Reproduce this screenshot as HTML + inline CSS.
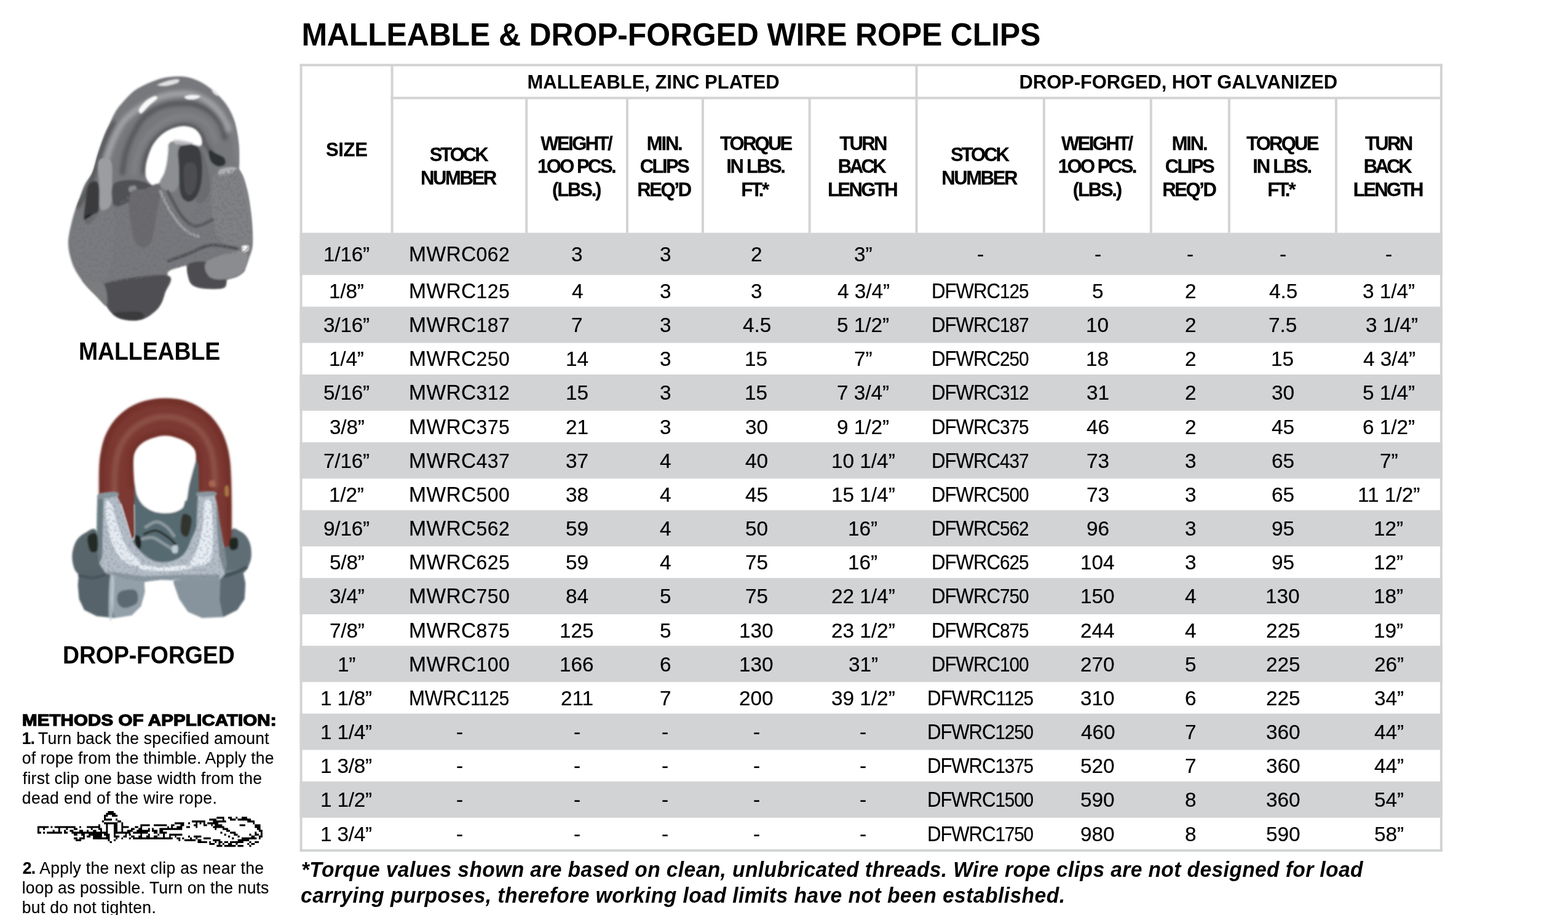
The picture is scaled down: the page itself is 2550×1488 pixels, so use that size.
<!DOCTYPE html>
<html lang="en">
<head>
<meta charset="utf-8">
<title>Malleable &amp; Drop-Forged Wire Rope Clips</title>
<style>
html,body{margin:0;padding:0;background:#fff;}
body{width:2550px;height:1488px;position:relative;overflow:hidden;font-family:"Liberation Sans", sans-serif;color:#000;}
#grid,#art{position:absolute;left:0;top:0;width:2550px;height:1488px;}
.t{position:absolute;margin:0;white-space:pre;line-height:1;font-weight:400;}
.b{font-weight:700;}
.i{font-style:italic;}
.t b{font-weight:700;}
</style>
</head>
<body>
<svg id="grid" width="2550" height="1488" viewBox="0 0 2550 1488">
<rect x="487.60" y="378.60" width="1858.30" height="68.60" fill="#d1d3d4"/>
<rect x="487.60" y="498.70" width="1858.30" height="59.00" fill="#d1d3d4"/>
<rect x="487.60" y="609.00" width="1858.30" height="59.00" fill="#d1d3d4"/>
<rect x="487.60" y="719.30" width="1858.30" height="59.00" fill="#d1d3d4"/>
<rect x="487.60" y="829.60" width="1858.30" height="59.00" fill="#d1d3d4"/>
<rect x="487.60" y="939.90" width="1858.30" height="59.00" fill="#d1d3d4"/>
<rect x="487.60" y="1050.20" width="1858.30" height="59.00" fill="#d1d3d4"/>
<rect x="487.60" y="1160.50" width="1858.30" height="59.00" fill="#d1d3d4"/>
<rect x="487.60" y="1270.80" width="1858.30" height="59.00" fill="#d1d3d4"/>
<rect x="487.60" y="103.80" width="4.00" height="1281.30" fill="#d1d3d4"/>
<rect x="2341.90" y="103.80" width="4.00" height="1281.30" fill="#d1d3d4"/>
<rect x="487.60" y="103.80" width="1858.30" height="4.00" fill="#d1d3d4"/>
<rect x="487.60" y="1381.10" width="1858.30" height="4.00" fill="#d1d3d4"/>
<rect x="635.60" y="157.40" width="1708.30" height="4.00" fill="#d1d3d4"/>
<rect x="635.60" y="103.80" width="4.00" height="274.90" fill="#d1d3d4"/>
<rect x="1488.50" y="103.80" width="4.00" height="274.90" fill="#d1d3d4"/>
<rect x="854.20" y="159.40" width="4.00" height="219.30" fill="#d1d3d4"/>
<rect x="1018.00" y="159.40" width="4.00" height="219.30" fill="#d1d3d4"/>
<rect x="1140.90" y="159.40" width="4.00" height="219.30" fill="#d1d3d4"/>
<rect x="1314.60" y="159.40" width="4.00" height="219.30" fill="#d1d3d4"/>
<rect x="1695.80" y="159.40" width="4.00" height="219.30" fill="#d1d3d4"/>
<rect x="1869.80" y="159.40" width="4.00" height="219.30" fill="#d1d3d4"/>
<rect x="1996.90" y="159.40" width="4.00" height="219.30" fill="#d1d3d4"/>
<rect x="2170.90" y="159.40" width="4.00" height="219.30" fill="#d1d3d4"/>
</svg>
<svg id="art" width="2550" height="1488" viewBox="0 0 2550 1488">
<defs>
<filter id="bl" x="-5%" y="-5%" width="110%" height="110%"><feGaussianBlur stdDeviation="1.6"/></filter>
<filter id="bl2" x="-20%" y="-20%" width="140%" height="140%"><feGaussianBlur stdDeviation="3.2"/></filter>
<filter id="bl3" x="-30%" y="-30%" width="160%" height="160%"><feGaussianBlur stdDeviation="6"/></filter>
<filter id="grain" x="0" y="0" width="100%" height="100%"><feTurbulence type="fractalNoise" baseFrequency="0.2" numOctaves="2" seed="7" result="n"/><feColorMatrix in="n" type="matrix" values="0 0 0 0 0.16  0 0 0 0 0.16  0 0 0 0 0.18  -7 0 0 0 3.6"/><feComposite in2="SourceGraphic" operator="in"/><feGaussianBlur stdDeviation="0.7"/></filter>
</defs>
<g id="malleable">
<g filter="url(#bl)">
<path d="M286.9,124.3 C293.2,124.2 299.5,124.3 306.0,125.7 C312.5,127.1 319.6,129.8 325.7,132.9 C331.9,136.0 337.6,140.2 342.9,144.3 C348.1,148.3 352.6,152.4 357.1,157.1 C361.7,161.9 366.2,166.9 370.0,172.9 C373.8,178.8 377.4,185.7 380.0,192.9 C382.6,200.0 384.3,208.1 385.7,215.7 C387.1,223.3 388.0,230.5 388.6,238.6 C389.1,246.7 389.0,258.1 389.1,264.3 C389.2,270.5 388.3,271.9 389.1,275.7 C390.0,279.5 392.5,281.9 394.3,287.1 C396.1,292.4 398.2,299.5 400.0,307.1 C401.8,314.8 403.6,324.3 405.1,332.9 C406.7,341.4 408.3,350.0 409.1,358.6 C410.0,367.1 410.3,376.2 410.3,384.3 C410.3,392.4 410.1,401.0 409.1,407.1 C408.1,413.3 406.0,416.7 404.3,421.4 C402.5,426.2 399.8,432.4 398.6,435.7 C397.4,439.0 399.3,439.0 397.1,441.4 C395.0,443.8 390.5,447.6 385.7,450.0 C381.0,452.4 371.9,452.9 368.6,455.7 C365.2,458.6 369.5,464.9 365.7,467.1 C361.9,469.4 352.9,469.3 345.7,469.4 C338.6,469.5 328.8,469.3 322.9,467.7 C316.9,466.1 312.8,463.4 310.0,460.0 C307.2,456.6 307.2,451.7 306.3,447.1 C305.3,442.6 307.2,434.8 304.3,432.9 C301.3,431.0 293.6,434.3 288.6,435.7 C283.6,437.1 277.1,438.6 274.3,441.4 C271.4,444.3 272.6,446.7 271.4,452.9 C270.2,459.0 269.3,471.0 267.1,478.6 C265.0,486.2 262.6,492.9 258.6,498.6 C254.5,504.3 248.3,509.3 242.9,512.9 C237.4,516.4 231.9,518.8 225.7,520.0 C219.5,521.2 211.9,521.0 205.7,520.0 C199.5,519.0 193.8,517.9 188.6,514.3 C183.3,510.7 179.5,504.0 174.3,498.6 C169.0,493.1 162.4,486.7 157.1,481.4 C151.9,476.2 147.4,472.1 142.9,467.1 C138.3,462.1 133.9,457.1 130.0,451.4 C126.1,445.7 122.2,439.3 119.4,432.9 C116.6,426.4 114.6,419.0 113.1,412.9 C111.7,406.7 111.0,401.2 110.9,395.7 C110.8,390.2 111.4,386.4 112.6,380.0 C113.7,373.6 115.9,364.1 117.7,357.1 C119.5,350.1 121.3,344.4 123.4,338.0 C125.6,331.6 128.1,325.2 130.6,318.9 C133.0,312.5 134.7,306.5 138.0,300.0 C141.3,293.5 146.8,288.4 150.3,280.0 C153.8,271.6 155.9,259.8 159.1,249.7 C162.4,239.7 166.4,228.0 169.7,219.7 C173.0,211.4 175.7,206.6 178.9,200.0 C182.0,193.4 184.8,186.2 188.6,180.3 C192.3,174.3 196.7,169.6 201.4,164.3 C206.2,159.0 211.9,152.8 217.1,148.6 C222.4,144.3 227.3,141.8 233.1,138.9 C239.0,135.9 246.2,133.0 252.0,130.9 C257.8,128.8 262.2,127.4 268.0,126.3 C273.8,125.2 280.5,124.4 286.9,124.3Z" fill="#77787b"/>
</g>
<clipPath id="mclip"><path d="M286.9,124.3 C293.2,124.2 299.5,124.3 306.0,125.7 C312.5,127.1 319.6,129.8 325.7,132.9 C331.9,136.0 337.6,140.2 342.9,144.3 C348.1,148.3 352.6,152.4 357.1,157.1 C361.7,161.9 366.2,166.9 370.0,172.9 C373.8,178.8 377.4,185.7 380.0,192.9 C382.6,200.0 384.3,208.1 385.7,215.7 C387.1,223.3 388.0,230.5 388.6,238.6 C389.1,246.7 389.0,258.1 389.1,264.3 C389.2,270.5 388.3,271.9 389.1,275.7 C390.0,279.5 392.5,281.9 394.3,287.1 C396.1,292.4 398.2,299.5 400.0,307.1 C401.8,314.8 403.6,324.3 405.1,332.9 C406.7,341.4 408.3,350.0 409.1,358.6 C410.0,367.1 410.3,376.2 410.3,384.3 C410.3,392.4 410.1,401.0 409.1,407.1 C408.1,413.3 406.0,416.7 404.3,421.4 C402.5,426.2 399.8,432.4 398.6,435.7 C397.4,439.0 399.3,439.0 397.1,441.4 C395.0,443.8 390.5,447.6 385.7,450.0 C381.0,452.4 371.9,452.9 368.6,455.7 C365.2,458.6 369.5,464.9 365.7,467.1 C361.9,469.4 352.9,469.3 345.7,469.4 C338.6,469.5 328.8,469.3 322.9,467.7 C316.9,466.1 312.8,463.4 310.0,460.0 C307.2,456.6 307.2,451.7 306.3,447.1 C305.3,442.6 307.2,434.8 304.3,432.9 C301.3,431.0 293.6,434.3 288.6,435.7 C283.6,437.1 277.1,438.6 274.3,441.4 C271.4,444.3 272.6,446.7 271.4,452.9 C270.2,459.0 269.3,471.0 267.1,478.6 C265.0,486.2 262.6,492.9 258.6,498.6 C254.5,504.3 248.3,509.3 242.9,512.9 C237.4,516.4 231.9,518.8 225.7,520.0 C219.5,521.2 211.9,521.0 205.7,520.0 C199.5,519.0 193.8,517.9 188.6,514.3 C183.3,510.7 179.5,504.0 174.3,498.6 C169.0,493.1 162.4,486.7 157.1,481.4 C151.9,476.2 147.4,472.1 142.9,467.1 C138.3,462.1 133.9,457.1 130.0,451.4 C126.1,445.7 122.2,439.3 119.4,432.9 C116.6,426.4 114.6,419.0 113.1,412.9 C111.7,406.7 111.0,401.2 110.9,395.7 C110.8,390.2 111.4,386.4 112.6,380.0 C113.7,373.6 115.9,364.1 117.7,357.1 C119.5,350.1 121.3,344.4 123.4,338.0 C125.6,331.6 128.1,325.2 130.6,318.9 C133.0,312.5 134.7,306.5 138.0,300.0 C141.3,293.5 146.8,288.4 150.3,280.0 C153.8,271.6 155.9,259.8 159.1,249.7 C162.4,239.7 166.4,228.0 169.7,219.7 C173.0,211.4 175.7,206.6 178.9,200.0 C182.0,193.4 184.8,186.2 188.6,180.3 C192.3,174.3 196.7,169.6 201.4,164.3 C206.2,159.0 211.9,152.8 217.1,148.6 C222.4,144.3 227.3,141.8 233.1,138.9 C239.0,135.9 246.2,133.0 252.0,130.9 C257.8,128.8 262.2,127.4 268.0,126.3 C273.8,125.2 280.5,124.4 286.9,124.3Z"/></clipPath>
<g clip-path="url(#mclip)"><g filter="url(#bl2)">
<path d="M127.1,335.7 C129.8,331.0 138.5,316.4 142.9,307.1 C147.2,297.9 150.0,289.6 153.4,280.0 C156.9,270.4 159.9,259.8 163.4,249.7 C167.0,239.7 171.1,228.0 174.9,219.7 C178.6,211.4 183.9,203.3 185.7,200.0" fill="none" stroke="#515255" stroke-width="7" stroke-linecap="round" stroke-linejoin="round"/>
<path d="M168.9,280.0 C169.9,275.5 172.0,262.1 174.9,252.9 C177.7,243.6 181.5,233.3 185.7,224.3 C189.9,215.2 194.3,206.0 200.0,198.6 C205.7,191.2 213.3,185.2 220.0,180.0 C226.7,174.8 233.3,170.8 240.0,167.1 C246.7,163.5 252.9,160.4 260.0,158.0 C267.1,155.6 274.3,153.7 282.9,152.9 C291.4,152.0 302.4,151.0 311.4,152.9 C320.5,154.8 329.5,159.3 337.1,164.3 C344.8,169.3 351.4,175.2 357.1,182.9 C362.9,190.5 369.0,205.5 371.4,210.0" fill="none" stroke="#a0a1a4" stroke-width="10" stroke-linecap="round" stroke-linejoin="round"/>
<path d="M198.9,281.4 C199.6,276.7 201.1,262.1 203.4,252.9 C205.8,243.6 208.4,235.2 212.9,225.7 C217.3,216.2 224.0,203.3 230.0,195.7 C236.0,188.1 241.7,184.2 248.6,180.0 C255.5,175.8 262.9,172.6 271.4,170.6 C280.0,168.6 291.4,167.8 300.0,168.0 C308.6,168.2 315.7,169.2 322.9,171.7 C330.0,174.2 336.9,177.9 342.9,182.9 C348.8,187.8 354.8,194.5 358.6,201.4 C362.4,208.3 364.5,220.5 365.7,224.3" fill="none" stroke="#55565a" stroke-width="8" stroke-linecap="round" stroke-linejoin="round"/>
<path d="M217.1,281.4 C217.9,277.6 219.3,266.2 221.4,258.6 C223.6,251.0 226.0,243.1 230.0,235.7 C234.0,228.3 239.8,220.5 245.7,214.3 C251.7,208.1 258.6,202.6 265.7,198.6 C272.9,194.5 281.4,191.7 288.6,190.0 C295.7,188.3 301.9,187.6 308.6,188.6 C315.2,189.5 322.9,192.1 328.6,195.7 C334.3,199.3 339.0,204.3 342.9,210.0 C346.7,215.7 350.0,226.7 351.4,230.0" fill="none" stroke="#828386" stroke-width="6" stroke-linecap="round" stroke-linejoin="round"/>
<path d="M232.6,281.4 C233.2,277.1 234.5,263.1 236.6,255.7 C238.7,248.3 241.6,242.9 245.1,237.1 C248.7,231.4 253.0,225.9 257.7,221.4 C262.4,217.0 267.5,213.4 273.1,210.6 C278.8,207.7 285.9,205.4 291.4,204.3 C297.0,203.2 301.7,203.2 306.3,204.0 C310.9,204.8 315.2,206.5 318.9,209.1 C322.5,211.8 325.7,215.8 328.0,219.7 C330.3,223.7 330.4,228.3 332.9,232.9 C335.3,237.4 341.2,244.8 342.9,247.1" fill="none" stroke="#4a4b4e" stroke-width="5" stroke-linecap="round" stroke-linejoin="round"/>
<path d="M375.7,198.6 C377.0,203.8 381.9,219.0 383.4,230.0 C385.0,241.0 384.9,258.6 385.1,264.3" fill="none" stroke="#808184" stroke-width="6" stroke-linecap="round" stroke-linejoin="round"/>
</g></g>
<g filter="url(#bl)">
<path d="M340.0,244.3 C341.4,242.4 347.4,247.9 351.4,250.0 C355.5,252.1 361.9,254.3 364.3,257.1 C366.7,260.0 367.4,265.0 365.7,267.1 C364.0,269.3 358.1,271.0 354.3,270.0 C350.5,269.0 345.2,265.7 342.9,261.4 C340.5,257.1 338.6,246.2 340.0,244.3Z" fill="#2f3033"/>
<path d="M237.1,270.0 C237.9,264.3 239.5,258.6 241.4,252.9 C243.3,247.1 245.5,241.0 248.6,235.7 C251.7,230.5 255.7,225.5 260.0,221.4 C264.3,217.4 269.0,214.0 274.3,211.4 C279.5,208.8 286.2,206.7 291.4,205.7 C296.7,204.8 301.4,205.0 305.7,205.7 C310.0,206.4 313.8,207.6 317.1,210.0 C320.5,212.4 323.8,216.4 325.7,220.0 C327.6,223.6 328.6,228.6 328.6,231.4 C328.6,234.3 327.6,236.4 325.7,237.1 C323.8,237.9 321.4,236.7 317.1,235.7 C312.9,234.8 305.7,232.4 300.0,231.4 C294.3,230.5 287.0,229.7 282.9,230.0 C278.7,230.3 276.4,231.0 274.9,233.4 C273.3,235.8 274.3,239.1 273.7,244.3 C273.1,249.4 272.5,258.1 271.4,264.3 C270.3,270.5 269.0,276.2 267.1,281.4 C265.2,286.7 262.6,292.4 260.0,295.7 C257.4,299.0 254.3,301.2 251.4,301.4 C248.6,301.7 245.2,299.5 242.9,297.1 C240.5,294.8 238.1,291.7 237.1,287.1 C236.2,282.6 236.4,275.7 237.1,270.0Z" fill="#ffffff"/>
<path d="M325.7,238.6 C327.6,236.7 334.5,258.1 337.1,270.0 C339.8,281.9 342.9,300.0 341.4,310.0 C340.0,320.0 332.6,328.1 328.6,330.0 C324.5,331.9 317.6,329.5 317.1,321.4 C316.7,313.3 324.3,295.2 325.7,281.4 C327.1,267.6 323.8,240.5 325.7,238.6Z" fill="#6b6c6f"/>
<path d="M274.9,233.4 C277.4,231.9 286.2,231.0 289.1,235.1 C292.1,239.3 292.1,249.0 292.6,258.6 C293.0,268.2 293.6,284.0 292.0,292.9 C290.4,301.7 287.2,309.0 282.9,311.4 C278.5,313.8 269.5,309.8 265.7,307.1 C261.9,304.5 259.8,300.0 260.0,295.7 C260.2,291.4 265.2,286.7 267.1,281.4 C269.0,276.2 270.3,270.5 271.4,264.3 C272.5,258.1 273.1,249.4 273.7,244.3 C274.3,239.1 272.3,235.0 274.9,233.4Z" fill="#8d8e91"/>
<path d="M290.0,244.3 C291.5,238.6 295.5,237.1 300.0,235.7 C304.5,234.3 312.9,233.8 317.1,235.7 C321.4,237.6 323.8,241.4 325.7,247.1 C327.6,252.9 328.3,261.4 328.6,270.0 C328.8,278.6 328.6,290.5 327.1,298.6 C325.7,306.7 323.1,313.7 320.0,318.6 C316.9,323.4 312.4,327.1 308.6,327.7 C304.8,328.3 299.9,325.9 297.1,322.0 C294.4,318.1 293.0,313.0 292.0,304.3 C291.0,295.6 291.2,280.0 290.9,270.0 C290.5,260.0 288.5,250.0 290.0,244.3Z" fill="#3b3c3f"/>
<path d="M300.0,270.0 C302.6,262.9 313.8,262.9 317.1,267.1 C320.5,271.4 321.0,287.6 320.0,295.7 C319.0,303.8 314.5,313.3 311.4,315.7 C308.3,318.1 303.3,317.6 301.4,310.0 C299.5,302.4 297.4,277.1 300.0,270.0Z" fill="#4d4e51"/>
<path d="M282.9,227.1 C285.2,226.2 294.8,227.6 300.0,228.6 C305.2,229.5 314.3,231.7 314.3,232.9 C314.3,234.0 304.8,235.5 300.0,235.7 C295.2,236.0 288.6,235.7 285.7,234.3 C282.9,232.9 280.5,228.1 282.9,227.1Z" fill="#c4c5c8" opacity="0.8"/>
<path d="M225.7,178.6 C226.9,175.2 232.9,168.0 237.1,164.3 C241.4,160.6 248.3,157.0 251.4,156.3 C254.5,155.6 257.1,157.5 255.7,160.0 C254.3,162.5 247.1,167.4 242.9,171.4 C238.6,175.5 232.9,183.1 230.0,184.3 C227.1,185.5 224.5,181.9 225.7,178.6Z" fill="#ffffff" opacity="0.95"/>
<path d="M255.7,138.6 C255.7,137.2 265.7,133.3 271.4,131.7 C277.1,130.1 287.0,128.4 290.0,128.9 C293.0,129.3 292.2,132.8 289.1,134.6 C286.0,136.4 277.0,139.0 271.4,139.7 C265.9,140.4 255.7,139.9 255.7,138.6Z" fill="#f4f4f4" opacity="0.85"/>
<path d="M300.0,157.1 C301.2,156.0 307.1,154.4 311.4,154.3 C315.7,154.1 324.8,155.1 325.7,156.3 C326.7,157.5 320.7,160.6 317.1,161.4 C313.6,162.3 307.1,162.1 304.3,161.4 C301.4,160.7 298.8,158.3 300.0,157.1Z" fill="#ffffff" opacity="0.9"/>
<path d="M344.3,145.7 C344.8,145.0 349.5,146.9 351.4,148.6 C353.3,150.2 356.2,155.0 355.7,155.7 C355.2,156.4 350.5,154.5 348.6,152.9 C346.7,151.2 343.8,146.4 344.3,145.7Z" fill="#f0f0f0" opacity="0.85"/>
<path d="M160.6,261.4 C163.8,255.2 177.0,256.4 180.6,262.9 C184.2,269.3 182.2,288.8 182.3,300.0 C182.4,311.2 182.9,323.2 181.1,330.0 C179.4,336.8 175.0,339.5 172.0,340.9 C169.0,342.2 164.7,344.8 162.9,338.0 C161.0,331.2 161.5,312.8 161.1,300.0 C160.8,287.2 157.3,267.6 160.6,261.4Z" fill="#9c9da0"/>
<path d="M144.6,300.0 C148.1,294.3 157.3,292.1 160.0,298.6 C162.7,305.0 161.3,329.1 160.6,338.6 C159.9,348.0 158.7,351.1 155.7,355.1 C152.8,359.2 146.0,362.4 142.9,362.9 C139.7,363.3 137.3,363.0 136.6,358.0 C135.9,353.0 137.2,342.5 138.6,332.9 C139.9,323.2 141.0,305.7 144.6,300.0Z" fill="#3a3b3e"/>
<path d="M138.6,352.9 C139.8,350.2 145.5,347.1 147.1,348.6 C148.8,350.0 149.8,358.8 148.6,361.4 C147.4,364.0 141.7,365.7 140.0,364.3 C138.3,362.9 137.4,355.5 138.6,352.9Z" fill="#1f2023"/>
<path d="M185.7,298.6 C191.9,292.9 209.5,292.4 220.0,292.9 C230.5,293.3 241.9,298.6 248.6,301.4 C255.2,304.3 261.0,306.7 260.0,310.0 C259.0,313.3 250.5,318.6 242.9,321.4 C235.2,324.3 222.9,324.8 214.3,327.1 C205.7,329.5 196.7,335.7 191.4,335.7 C186.2,335.7 183.8,333.3 182.9,327.1 C181.9,321.0 179.5,304.3 185.7,298.6Z" fill="#505154"/>
<path d="M210.0,304.3 C211.5,302.6 218.1,301.0 220.0,302.0 C221.9,303.0 223.0,308.3 221.4,310.0 C219.9,311.7 212.8,313.2 210.9,312.3 C209.0,311.3 208.5,306.0 210.0,304.3Z" fill="#9a9b9e" opacity="0.8"/>
<path d="M214.3,311.4 C218.8,305.7 230.2,309.3 237.1,307.1 C244.0,305.0 251.7,297.9 255.7,298.6 C259.8,299.3 261.4,304.3 261.4,311.4 C261.4,318.6 258.6,327.4 255.7,341.4 C252.9,355.5 250.0,386.7 244.3,395.7 C238.6,404.8 227.1,404.8 221.4,395.7 C215.7,386.7 211.2,355.5 210.0,341.4 C208.8,327.4 209.8,317.1 214.3,311.4Z" fill="#69696c"/>
<path d="M122.9,368.6 C133.4,359.3 169.5,335.5 180.0,340.0 C190.5,344.5 187.1,376.9 185.7,395.7 C184.3,414.5 180.5,444.3 171.4,452.9 C162.4,461.4 140.6,456.7 131.4,447.1 C122.3,437.6 118.0,408.8 116.6,395.7 C115.1,382.6 112.3,377.9 122.9,368.6Z" fill="#7b7c7f" opacity="0.8"/>
<path d="M351.4,281.4 C358.5,275.4 377.2,269.2 385.7,274.0 C394.2,278.8 398.3,294.5 402.3,310.0 C406.2,325.5 408.5,351.0 409.4,367.1 C410.4,383.3 412.0,401.4 408.0,407.1 C404.0,412.9 394.2,404.3 385.7,401.4 C377.2,398.6 363.7,397.6 357.1,390.0 C350.6,382.4 348.6,369.0 346.3,355.7 C344.0,342.4 342.6,322.4 343.4,310.0 C344.3,297.6 344.4,287.4 351.4,281.4Z" fill="#808184"/>
<path d="M357.1,275.7 C360.0,273.6 369.5,271.7 374.3,271.4 C379.0,271.1 385.7,272.3 385.7,274.0 C385.7,275.7 379.0,279.7 374.3,281.4 C369.5,283.1 360.0,285.2 357.1,284.3 C354.3,283.3 354.3,277.9 357.1,275.7Z" fill="#b9babd" opacity="0.8"/>
<path d="M260.6,310.6 C263.4,316.3 271.0,334.4 277.7,344.9 C284.4,355.3 293.0,366.8 300.6,373.4 C308.2,380.1 319.6,383.0 323.4,384.9" fill="none" stroke="#a0a1a4" stroke-width="4" stroke-linecap="round" stroke-linejoin="round"/>
<path d="M272.9,311.4 C276.5,318.0 287.4,341.2 294.9,350.6 C302.3,360.0 309.2,366.6 317.7,367.7 C326.2,368.8 341.0,358.9 345.7,357.1" fill="none" stroke="#57585b" stroke-width="5" stroke-linecap="round" stroke-linejoin="round"/>
<path d="M274.3,424.3 C279.5,422.4 294.3,417.1 305.7,412.9 C317.1,408.6 329.5,400.0 342.9,398.6 C356.2,397.1 378.6,403.3 385.7,404.3" fill="none" stroke="#505154" stroke-width="5" stroke-linecap="round" stroke-linejoin="round"/>
<path d="M168.6,462.0 C184.9,453.8 255.0,445.0 271.4,447.7 C287.9,450.5 269.3,470.1 267.1,478.6 C265.0,487.0 262.6,492.9 258.6,498.6 C254.5,504.3 248.3,509.3 242.9,512.9 C237.4,516.4 231.9,518.8 225.7,520.0 C219.5,521.2 211.9,521.0 205.7,520.0 C199.5,519.0 193.9,518.1 188.6,514.3 C183.2,510.5 177.0,505.9 173.7,497.1 C170.4,488.4 152.3,470.2 168.6,462.0Z" fill="#4f5053"/>
<path d="M185.7,508.6 C191.7,507.2 217.6,506.0 225.7,507.1 C233.8,508.3 234.3,513.6 234.3,515.7 C234.3,517.9 230.5,519.3 225.7,520.0 C221.0,520.7 211.7,520.8 205.7,520.0 C199.8,519.2 193.3,517.0 190.0,515.1 C186.7,513.2 179.8,509.9 185.7,508.6Z" fill="#3a3b3e"/>
<path d="M135.7,454.3 C140.0,453.4 162.2,454.9 168.6,462.0 C174.9,469.1 175.6,493.9 173.7,497.1 C171.8,500.4 162.3,486.4 157.1,481.4 C152.0,476.4 146.4,471.7 142.9,467.1 C139.3,462.6 131.4,455.1 135.7,454.3Z" fill="#7a7b7e"/>
<path d="M305.7,430.6 C310.3,425.2 331.9,423.9 337.7,427.1 C343.5,430.4 335.8,445.6 340.6,450.0 C345.3,454.4 362.3,450.6 366.3,453.4 C370.2,456.3 367.7,464.5 364.3,467.1 C360.9,469.8 352.5,469.4 345.7,469.4 C338.9,469.4 329.4,468.9 323.4,467.1 C317.5,465.4 313.0,465.2 310.0,459.1 C307.0,453.0 301.1,435.9 305.7,430.6Z" fill="#4d4e51"/>
<path d="M337.7,424.3 C347.1,417.2 387.1,405.3 397.1,407.7 C407.1,410.1 402.4,431.0 397.7,438.6 C393.0,446.2 378.7,451.5 369.1,453.4 C359.6,455.3 345.8,454.9 340.6,450.0 C335.3,445.1 328.3,431.3 337.7,424.3Z" fill="#8b8c8f"/>
<path d="M394.3,400.0 C395.6,398.3 401.3,397.4 402.9,398.6 C404.4,399.8 404.8,405.5 403.4,407.1 C402.1,408.8 396.4,409.8 394.9,408.6 C393.3,407.4 393.0,401.7 394.3,400.0Z" fill="#ffffff" opacity="0.9"/>
</g>
<g clip-path="url(#mclip)"><path d="M117.1,372.9 L180.0,338.6 L214.3,311.4 L255.7,298.6 L300.0,367.1 L351.4,281.4 L385.7,274.0 L409.4,367.1 L408.0,407.1 L305.7,430.0 L271.4,447.1 L168.6,462.0 L131.4,450.0 L114.3,395.7Z" fill="#000" opacity="0.38" filter="url(#grain)"/></g>
</g>
<g id="dropforged">
<g filter="url(#bl)">
<path d="M157.1,862.9 C151.4,856.2 145.2,863.3 140.0,865.7 C134.8,868.1 129.3,872.4 125.7,877.1 C122.1,881.9 119.9,888.6 118.6,894.3 C117.2,900.0 117.0,905.7 117.7,911.4 C118.4,917.1 120.1,924.3 122.9,928.6 C125.6,932.9 128.6,935.2 134.3,937.1 C140.0,939.0 150.5,945.2 157.1,940.0 C163.8,934.8 174.3,918.6 174.3,905.7 C174.3,892.9 162.9,869.5 157.1,862.9Z" fill="#58666c"/>
<path d="M375.7,862.9 C381.0,855.7 384.5,861.4 388.6,862.9 C392.6,864.3 396.9,867.6 400.0,871.4 C403.1,875.2 405.7,880.0 407.1,885.7 C408.6,891.4 409.3,899.5 408.6,905.7 C407.9,911.9 405.7,918.1 402.9,922.9 C400.0,927.6 397.1,932.4 391.4,934.3 C385.7,936.2 374.3,939.0 368.6,934.3 C362.9,929.5 356.0,917.6 357.1,905.7 C358.3,893.8 370.5,870.0 375.7,862.9Z" fill="#5f6d75"/>
<path d="M128.6,928.6 L171.4,922.9 L194.3,928.6 L234.3,934.3 L235.4,962.9 L229.1,985.7 L214.3,1000.6 L185.7,1004.9 L157.1,1002.0 L137.1,992.0 L128.6,974.3 L126.6,951.4Z" fill="#56646b"/>
<path d="M181.4,931.4 L234.3,934.3 L235.4,962.9 L229.1,985.7 L214.3,1000.6 L185.7,1004.9 L180.0,977.1Z" fill="#939fa9"/>
<path d="M194.3,962.9 C199.0,959.5 215.2,957.1 220.0,960.0 C224.8,962.9 225.7,975.2 222.9,980.0 C220.0,984.8 208.1,988.6 202.9,988.6 C197.6,988.6 192.9,984.3 191.4,980.0 C190.0,975.7 189.5,966.2 194.3,962.9Z" fill="#5b6972"/>
<path d="M178.6,940.0 C180.0,930.2 185.0,932.4 185.7,942.9 C186.4,953.3 184.3,993.1 182.9,1002.9 C181.4,1012.6 177.9,1011.9 177.1,1001.4 C176.4,991.0 177.1,949.8 178.6,940.0Z" fill="#c5d0da" opacity="0.7"/>
<path d="M300.0,928.6 L357.1,930.0 L394.3,925.7 L399.1,948.6 L397.7,974.3 L385.7,992.0 L362.9,1003.4 L328.6,1004.9 L305.7,994.9 L291.4,974.3 L282.3,948.6 L282.9,934.3Z" fill="#87949d"/>
<path d="M358.6,931.4 L394.3,925.7 L399.1,948.6 L397.7,974.3 L385.7,992.0 L362.9,1003.4 L357.1,977.1Z" fill="#5d6b73"/>
<path d="M161.4,820.0 C161.4,810.5 161.0,777.1 161.4,762.9 C161.9,748.6 162.6,743.3 164.3,734.3 C166.0,725.2 167.9,716.9 171.4,708.6 C175.0,700.2 180.0,691.4 185.7,684.3 C191.4,677.1 198.6,670.7 205.7,665.7 C212.9,660.7 220.5,657.1 228.6,654.3 C236.7,651.4 246.2,649.6 254.3,648.6 C262.4,647.5 269.5,647.5 277.1,648.0 C284.8,648.5 292.4,649.2 300.0,651.4 C307.6,653.7 315.7,657.1 322.9,661.4 C330.0,665.7 336.9,671.0 342.9,677.1 C348.8,683.3 354.3,691.0 358.6,698.6 C362.9,706.2 366.0,714.5 368.6,722.9 C371.1,731.2 372.5,739.0 373.7,748.6 C374.9,758.1 375.2,768.1 375.7,780.0 C376.2,791.9 376.4,806.2 376.6,820.0 C376.7,833.8 376.7,851.4 376.6,862.9 C376.4,874.3 375.9,884.3 375.7,888.6 L364.3,890.0 L322.9,820.0 L214.3,820.0Z" fill="#7b3933"/>
<path d="M188.6,802.9 L217.7,791.4 L218.9,871.4 L214.3,878.6 L205.7,848.6 L197.1,820.0Z" fill="#7b3933"/>
</g>
<g filter="url(#bl2)">
<path d="M185.7,802.9 C186.0,796.2 186.0,774.3 187.1,762.9 C188.3,751.4 190.0,742.9 192.9,734.3 C195.7,725.7 199.3,718.3 204.3,711.4 C209.3,704.5 216.0,697.9 222.9,692.9 C229.8,687.9 238.1,684.0 245.7,681.4 C253.3,678.9 261.0,677.9 268.6,677.7 C276.2,677.6 283.8,678.3 291.4,680.6 C299.0,682.9 307.6,686.8 314.3,691.4 C321.0,696.1 326.7,701.9 331.4,708.6 C336.2,715.2 340.1,723.3 342.9,731.4 C345.6,739.5 346.8,747.1 348.0,757.1 C349.2,767.1 349.7,785.7 350.0,791.4" fill="none" stroke="#8e5248" stroke-width="9" stroke-linecap="round" stroke-linejoin="round"/>
<path d="M165.1,802.9 C165.2,796.2 165.0,774.3 165.7,762.9 C166.4,751.4 167.4,743.0 169.1,734.3 C170.9,725.6 172.7,718.5 176.0,710.9 C179.3,703.2 183.7,695.3 189.1,688.6 C194.6,681.8 201.8,675.2 208.6,670.3 C215.4,665.4 222.4,662.0 230.0,659.1 C237.6,656.3 246.4,654.5 254.3,653.4 C262.1,652.4 269.6,652.4 277.1,652.9 C284.7,653.3 292.2,654.1 299.4,656.3 C306.7,658.4 313.9,661.7 320.6,665.7 C327.2,669.8 333.8,674.7 339.4,680.6 C345.0,686.5 350.2,693.8 354.3,701.1 C358.4,708.5 361.5,716.6 364.0,724.6 C366.5,732.6 367.9,739.9 369.1,749.1 C370.4,758.4 371.0,768.2 371.4,780.0 C371.9,791.8 371.9,803.8 372.0,820.0 C372.1,836.2 372.0,867.6 372.0,877.1" fill="none" stroke="#642420" stroke-width="4" stroke-linecap="round" stroke-linejoin="round" opacity="0.85"/>
<path d="M213.7,791.4 C213.6,784.3 212.5,758.8 213.1,748.6 C213.8,738.3 214.6,735.6 217.7,730.0 C220.9,724.4 226.5,718.9 232.0,715.1 C237.5,711.4 244.8,709.2 250.9,707.4 C257.0,705.7 262.6,704.6 268.6,704.6 C274.6,704.6 280.9,705.7 286.9,707.4 C292.9,709.1 299.3,711.5 304.6,714.9 C309.8,718.2 315.3,722.3 318.3,727.4 C321.2,732.6 321.4,735.0 322.3,745.7 C323.1,756.4 323.2,783.8 323.4,791.4" fill="none" stroke="#67251f" stroke-width="4" stroke-linecap="round" stroke-linejoin="round" opacity="0.8"/>
</g>
<g filter="url(#bl)">
<path d="M312.9,768.6 L318.6,745.7 L322.9,757.1 L323.4,802.9 L321.4,848.6 L300.0,837.1 L303.4,814.3 L307.1,791.4Z" fill="#586a70"/>
<path d="M217.1,748.6 C217.6,739.5 218.6,736.4 221.4,731.4 C224.3,726.4 229.3,721.9 234.3,718.6 C239.3,715.2 245.7,713.1 251.4,711.4 C257.1,709.8 262.9,708.6 268.6,708.6 C274.3,708.6 280.0,709.8 285.7,711.4 C291.4,713.1 297.9,715.5 302.9,718.6 C307.9,721.7 313.1,725.5 315.7,730.0 C318.3,734.5 319.0,739.3 318.6,745.7 C318.1,752.1 314.8,761.0 312.9,768.6 C311.0,776.2 308.7,783.8 307.1,791.4 C305.6,799.0 305.1,808.6 303.4,814.3 C301.8,820.0 300.6,822.6 297.1,825.7 C293.7,828.8 288.6,831.4 282.9,832.9 C277.1,834.3 269.0,834.8 262.9,834.3 C256.7,833.8 251.0,832.4 245.7,830.0 C240.5,827.6 235.2,824.0 231.4,820.0 C227.6,816.0 225.0,811.4 222.9,805.7 C220.7,800.0 219.5,795.2 218.6,785.7 C217.6,776.2 216.7,757.6 217.1,748.6Z" fill="#ffffff"/>
<path d="M158.6,805.7 L188.6,802.3 L197.1,820.0 L205.7,848.6 L214.3,877.1 L225.7,894.3 L242.9,908.6 L260.0,914.3 L282.9,911.4 L300.0,900.0 L311.4,877.1 L320.0,848.6 L321.4,820.0 L322.3,802.9 L348.6,801.4 L352.9,820.0 L357.1,848.6 L364.3,888.6 L368.6,917.1 L365.7,934.3 L357.1,942.9 L300.0,941.4 L282.9,944.3 L260.0,942.9 L234.3,946.3 L194.3,940.0 L171.4,931.4 L161.4,917.1 L157.1,877.1 L157.1,834.3Z" fill="#b2bcc6"/>
<path d="M218.6,791.4 C219.2,780.5 220.7,801.0 222.9,805.7 C225.0,810.5 227.6,816.0 231.4,820.0 C235.2,824.0 240.5,827.6 245.7,830.0 C251.0,832.4 256.7,833.8 262.9,834.3 C269.0,834.8 277.1,834.3 282.9,832.9 C288.6,831.4 293.7,828.8 297.1,825.7 C300.6,822.6 299.6,810.5 303.4,814.3 C307.2,818.1 318.7,838.1 320.0,848.6 C321.3,859.0 314.8,868.6 311.4,877.1 C308.1,885.7 304.8,894.3 300.0,900.0 C295.2,905.7 289.5,909.0 282.9,911.4 C276.2,913.8 266.7,914.8 260.0,914.3 C253.3,913.8 248.6,911.9 242.9,908.6 C237.1,905.2 230.5,899.5 225.7,894.3 C221.0,889.0 215.4,881.0 214.3,877.1 C213.1,873.3 218.1,885.7 218.9,871.4 C219.6,857.1 217.9,802.4 218.6,791.4Z" fill="#566a72"/>
<path d="M237.1,857.1 C240.0,855.7 248.6,848.6 254.3,848.6 C260.0,848.6 266.7,853.3 271.4,857.1 C276.2,861.0 281.0,869.0 282.9,871.4" fill="none" stroke="#8c989e" stroke-width="5" stroke-linecap="round" stroke-linejoin="round"/>
<path d="M228.6,877.1 C231.9,876.7 241.9,872.9 248.6,874.3 C255.2,875.7 262.9,882.4 268.6,885.7 C274.3,889.0 280.5,892.9 282.9,894.3" fill="none" stroke="#8c989e" stroke-width="5" stroke-linecap="round" stroke-linejoin="round"/>
<path d="M234.3,868.6 C237.6,867.6 247.6,861.9 254.3,862.9 C261.0,863.8 269.0,870.5 274.3,874.3 C279.5,878.1 283.8,883.8 285.7,885.7" fill="none" stroke="#262b28" stroke-width="3.5" stroke-linecap="round" stroke-linejoin="round"/>
<path d="M297.1,837.1 C300.0,833.3 310.0,837.1 311.4,842.9 C312.9,848.6 308.6,867.6 305.7,871.4 C302.9,875.2 295.7,871.4 294.3,865.7 C292.9,860.0 294.3,841.0 297.1,837.1Z" fill="#2e3028" opacity="0.9"/>
<path d="M220.0,871.4 C221.2,869.0 227.1,871.0 228.6,874.3 C230.0,877.6 229.8,889.0 228.6,891.4 C227.4,893.8 222.9,891.9 221.4,888.6 C220.0,885.2 218.8,873.8 220.0,871.4Z" fill="#171a16" opacity="0.9"/>
<path d="M280.0,888.6 C281.3,886.7 287.1,885.5 288.6,887.1 C290.0,888.8 289.9,896.7 288.6,898.6 C287.2,900.5 282.0,900.2 280.6,898.6 C279.1,896.9 278.7,890.5 280.0,888.6Z" fill="#c0ccd4"/>
<path d="M171.4,820.0 C171.9,811.4 178.1,814.3 181.4,820.0 C184.8,825.7 187.1,842.4 191.4,854.3 C195.7,866.2 201.0,881.4 207.1,891.4 C213.3,901.4 226.9,909.5 228.6,914.3 C230.2,919.0 222.9,921.4 217.1,920.0 C211.4,918.6 200.7,913.8 194.3,905.7 C187.9,897.6 182.4,885.7 178.6,871.4 C174.8,857.1 171.0,828.6 171.4,820.0Z" fill="#e2e9f0"/>
<path d="M332.9,817.1 C335.0,811.0 340.6,808.1 342.9,817.1 C345.1,826.2 346.5,855.7 346.3,871.4 C346.0,887.1 345.8,903.3 341.4,911.4 C337.0,919.5 325.5,919.0 320.0,920.0 C314.5,921.0 308.3,921.9 308.6,917.1 C308.8,912.4 317.9,901.9 321.4,891.4 C325.0,881.0 328.1,866.7 330.0,854.3 C331.9,841.9 330.7,823.3 332.9,817.1Z" fill="#e4ebf2"/>
<path d="M228.6,918.6 C233.3,917.9 248.1,922.1 260.0,922.3 C271.9,922.4 291.4,919.2 300.0,919.4 C308.6,919.6 316.2,921.9 311.4,923.4 C306.7,925.0 284.8,928.1 271.4,928.6 C258.1,929.0 238.6,928.0 231.4,926.3 C224.3,924.6 223.8,919.2 228.6,918.6Z" fill="#eaf0f5" opacity="0.95"/>
<path d="M158.6,805.7 L168.6,807.1 L166.3,905.7 L161.4,917.1 L157.1,877.1Z" fill="#6b7b83"/>
<path d="M351.4,820.0 L357.1,848.6 L364.3,888.6 L368.6,917.1 L365.7,934.3 L357.1,905.7 L352.9,862.9Z" fill="#7c8a92"/>
<path d="M171.4,928.6 L234.3,937.1 L300.0,934.3 L357.1,934.3 L357.1,942.9 L300.0,941.4 L260.0,942.9 L234.3,946.3 L194.3,940.0Z" fill="#8996a0"/>
<path d="M161.4,802.9 C166.0,801.0 183.7,799.3 188.6,800.0 C193.5,800.7 195.4,805.3 190.9,807.1 C186.3,809.0 166.3,811.6 161.4,810.9 C156.5,810.1 156.9,804.7 161.4,802.9Z" fill="#8a98a0"/>
<path d="M322.3,800.6 C326.6,799.3 343.9,798.6 348.6,799.4 C353.2,800.3 354.6,804.4 350.3,805.7 C346.0,807.0 327.5,808.0 322.9,807.1 C318.2,806.3 318.0,801.9 322.3,800.6Z" fill="#8a98a0"/>
<path d="M142.9,872.9 C144.5,868.3 154.5,865.0 157.1,868.6 C159.8,872.1 160.2,889.8 158.6,894.3 C156.9,898.8 149.8,899.3 147.1,895.7 C144.5,892.1 141.2,877.4 142.9,872.9Z" fill="#1d211c" opacity="0.9"/>
<path d="M374.3,877.1 C376.1,874.3 383.8,873.3 385.7,875.7 C387.6,878.1 387.5,888.6 385.7,891.4 C383.9,894.3 376.8,895.2 374.9,892.9 C373.0,890.5 372.5,880.0 374.3,877.1Z" fill="#1a1e1a" opacity="0.9"/>
<path d="M365.7,937.1 C369.0,936.0 380.0,932.4 385.7,930.0 C391.4,927.6 397.6,924.0 400.0,922.9" fill="none" stroke="#3c4a50" stroke-width="5" stroke-linecap="round" stroke-linejoin="round" opacity="0.8"/>
<path d="M128.6,935.7 C132.4,936.4 144.3,940.2 151.4,940.0 C158.6,939.8 168.1,935.2 171.4,934.3" fill="none" stroke="#3f4d53" stroke-width="4" stroke-linecap="round" stroke-linejoin="round" opacity="0.7"/>
<path d="M340.0,782.9 C341.2,781.2 346.9,780.2 348.6,781.4 C350.2,782.6 351.2,788.3 350.0,790.0 C348.8,791.7 343.1,792.6 341.4,791.4 C339.8,790.2 338.8,784.5 340.0,782.9Z" fill="#b06a52" opacity="0.8"/>
<path d="M365.7,791.4 C366.6,788.9 370.4,788.5 371.4,790.9 C372.5,793.2 372.9,803.1 372.0,805.7 C371.1,808.3 367.3,808.7 366.3,806.3 C365.2,803.9 364.9,794.0 365.7,791.4Z" fill="#b08848" opacity="0.8"/>
</g>
<path d="M158.6,805.7 L188.6,802.3 L197.1,820.0 L205.7,848.6 L214.3,877.1 L225.7,894.3 L242.9,908.6 L260.0,914.3 L282.9,911.4 L300.0,900.0 L311.4,877.1 L320.0,848.6 L321.4,820.0 L322.3,802.9 L348.6,801.4 L352.9,820.0 L357.1,848.6 L364.3,888.6 L368.6,917.1 L365.7,934.3 L357.1,942.9 L300.0,941.4 L282.9,944.3 L260.0,942.9 L234.3,946.3 L194.3,940.0 L171.4,931.4 L161.4,917.1 L157.1,877.1 L157.1,834.3Z" fill="#000" opacity="0.15" filter="url(#grain)"/>
</g>
<path id="diagram" d="M175.4,1319.0h9.6v3.20h-9.6zM172.4,1322.1h14.6v3.20h-14.6zM169.1,1325.1h6.3v3.20h-6.3zM182.0,1325.1h5.0v3.20h-5.0zM169.1,1328.2h3.0v3.20h-3.0zM169.1,1331.2h12.9v3.20h-12.9zM165.8,1334.3h3.3v3.20h-3.3zM169.1,1337.3h17.9v3.20h-17.9zM160.0,1340.4h3.0v3.20h-3.0zM172.4,1340.4h3.0v3.20h-3.0zM185.0,1340.4h2.0v3.20h-2.0zM60.9,1343.4h18.3v3.20h-18.3zM82.4,1343.4h3.0v3.20h-3.0zM88.7,1343.4h34.0v3.20h-34.0zM129.0,1343.4h3.0v3.20h-3.0zM141.1,1343.4h21.9v3.20h-21.9zM172.4,1343.4h3.0v3.20h-3.0zM185.0,1343.4h2.0v3.20h-2.0zM60.9,1346.5h3.1v3.20h-3.1zM70.1,1346.5h3.0v3.20h-3.0zM94.8,1346.5h3.0v3.20h-3.0zM107.4,1346.5h3.0v3.20h-3.0zM120.0,1346.5h5.8v3.20h-5.8zM147.7,1346.5h3.0v3.20h-3.0zM160.0,1346.5h5.8v3.20h-5.8zM172.4,1346.5h3.0v3.20h-3.0zM185.0,1346.5h2.0v3.20h-2.0zM60.9,1349.6h3.1v3.20h-3.1zM85.7,1349.6h3.0v3.20h-3.0zM94.8,1349.6h3.0v3.20h-3.0zM104.1,1349.6h3.0v3.20h-3.0zM113.4,1349.6h6.0v3.20h-6.0zM129.0,1349.6h6.0v3.20h-6.0zM141.1,1349.6h3.0v3.20h-3.0zM151.2,1349.6h5.5v3.20h-5.5zM163.1,1349.6h2.8v3.20h-2.8zM172.4,1349.6h3.0v3.20h-3.0zM185.0,1349.6h2.0v3.20h-2.0zM60.9,1352.6h5.9v3.20h-5.9zM70.1,1352.6h3.0v3.20h-3.0zM76.1,1352.6h24.7v3.20h-24.7zM104.1,1352.6h6.0v3.20h-6.0zM116.4,1352.6h59.0v3.20h-59.0zM185.0,1352.6h2.0v3.20h-2.0zM120.0,1355.7h5.8v3.20h-5.8zM132.1,1355.7h5.8v3.20h-5.8zM144.2,1355.7h21.7v3.20h-21.7zM169.1,1355.7h9.3v3.20h-9.3zM185.0,1355.7h2.0v3.20h-2.0zM135.1,1358.7h2.8v3.20h-2.8zM141.1,1358.7h6.0v3.20h-6.0zM151.2,1358.7h14.6v3.20h-14.6zM172.4,1358.7h6.0v3.20h-6.0zM185.0,1358.7h2.0v3.20h-2.0zM120.0,1361.8h5.8v3.20h-5.8zM129.0,1361.8h8.8v3.20h-8.8zM151.2,1361.8h27.2v3.20h-27.2zM123.0,1364.8h9.1v3.20h-9.1zM175.4,1364.8h3.0v3.20h-3.0zM185.0,1364.8h2.0v3.20h-2.0zM178.4,1367.9h3.5v3.20h-3.5zM184.0,1319.0h1.0v3.20h-1.0zM184.0,1322.1h4.0v3.20h-4.0zM184.0,1325.1h7.1v3.20h-7.1zM188.0,1331.2h3.0v3.20h-3.0zM191.1,1334.3h6.0v3.20h-6.0zM184.0,1337.3h7.1v3.20h-7.1zM197.4,1337.3h2.8v3.20h-2.8zM284.0,1337.3h15.4v3.20h-15.4zM306.0,1337.3h3.0v3.20h-3.0zM185.0,1340.4h6.0v3.20h-6.0zM197.4,1340.4h2.8v3.20h-2.8zM228.3,1340.4h15.4v3.20h-15.4zM250.0,1340.4h21.4v3.20h-21.4zM278.2,1340.4h5.5v3.20h-5.5zM293.4,1340.4h6.0v3.20h-6.0zM185.0,1343.4h6.0v3.20h-6.0zM197.4,1343.4h12.1v3.20h-12.1zM219.3,1343.4h5.5v3.20h-5.5zM228.3,1343.4h2.8v3.20h-2.8zM272.2,1343.4h2.5v3.20h-2.5zM278.2,1343.4h2.8v3.20h-2.8zM287.3,1343.4h9.1v3.20h-9.1zM302.9,1343.4h6.0v3.20h-6.0zM185.0,1346.5h6.0v3.20h-6.0zM197.4,1346.5h2.8v3.20h-2.8zM213.0,1346.5h5.8v3.20h-5.8zM225.3,1346.5h5.8v3.20h-5.8zM240.9,1346.5h2.8v3.20h-2.8zM247.0,1346.5h3.0v3.20h-3.0zM259.3,1346.5h37.0v3.20h-37.0zM185.0,1349.6h6.0v3.20h-6.0zM197.4,1349.6h2.8v3.20h-2.8zM206.7,1349.6h9.1v3.20h-9.1zM222.3,1349.6h21.4v3.20h-21.4zM247.0,1349.6h9.1v3.20h-9.1zM259.3,1349.6h5.8v3.20h-5.8zM185.0,1352.6h27.2v3.20h-27.2zM216.3,1352.6h24.2v3.20h-24.2zM250.0,1352.6h6.0v3.20h-6.0zM259.3,1352.6h12.1v3.20h-12.1zM185.0,1355.7h3.0v3.20h-3.0zM203.7,1355.7h2.5v3.20h-2.5zM209.7,1355.7h3.0v3.20h-3.0zM228.3,1355.7h2.8v3.20h-2.8zM240.9,1355.7h2.8v3.20h-2.8zM256.3,1355.7h2.8v3.20h-2.8zM265.1,1355.7h3.0v3.20h-3.0zM275.2,1355.7h21.2v3.20h-21.2zM185.0,1358.7h9.1v3.20h-9.1zM200.6,1358.7h5.5v3.20h-5.5zM213.0,1358.7h5.8v3.20h-5.8zM225.3,1358.7h5.8v3.20h-5.8zM237.9,1358.7h5.8v3.20h-5.8zM250.0,1358.7h6.0v3.20h-6.0zM265.1,1358.7h3.0v3.20h-3.0zM275.2,1358.7h2.5v3.20h-2.5zM284.3,1358.7h2.5v3.20h-2.5zM306.0,1358.7h3.0v3.20h-3.0zM188.0,1361.8h3.0v3.20h-3.0zM197.4,1361.8h2.8v3.20h-2.8zM209.7,1361.8h3.0v3.20h-3.0zM216.3,1361.8h64.5v3.20h-64.5zM287.3,1361.8h6.0v3.20h-6.0zM296.4,1361.8h3.0v3.20h-3.0zM309.0,1361.8h2.0v3.20h-2.0zM185.0,1364.8h3.0v3.20h-3.0zM290.3,1364.8h3.0v3.20h-3.0zM299.9,1364.8h11.1v3.20h-11.1zM352.3,1328.2h12.3v3.20h-12.3zM371.0,1328.2h6.0v3.20h-6.0zM383.3,1328.2h3.0v3.20h-3.0zM392.9,1328.2h9.1v3.20h-9.1zM340.3,1331.2h11.8v3.20h-11.8zM361.9,1331.2h2.8v3.20h-2.8zM374.0,1331.2h9.3v3.20h-9.3zM386.6,1331.2h21.4v3.20h-21.4zM312.0,1334.3h21.7v3.20h-21.7zM346.3,1334.3h21.4v3.20h-21.4zM402.2,1334.3h11.8v3.20h-11.8zM308.0,1337.3h1.0v3.20h-1.0zM318.3,1337.3h2.8v3.20h-2.8zM324.6,1337.3h2.8v3.20h-2.8zM330.9,1337.3h2.8v3.20h-2.8zM337.2,1337.3h17.9v3.20h-17.9zM411.3,1337.3h2.8v3.20h-2.8zM315.1,1340.4h6.0v3.20h-6.0zM330.9,1340.4h5.8v3.20h-5.8zM343.3,1340.4h2.5v3.20h-2.5zM349.3,1340.4h12.1v3.20h-12.1zM389.6,1340.4h9.3v3.20h-9.3zM414.3,1340.4h9.3v3.20h-9.3zM308.0,1343.4h1.0v3.20h-1.0zM318.3,1343.4h2.8v3.20h-2.8zM346.3,1343.4h18.4v3.20h-18.4zM414.3,1343.4h9.3v3.20h-9.3zM349.3,1346.5h2.8v3.20h-2.8zM361.9,1346.5h9.1v3.20h-9.1zM417.9,1346.5h5.8v3.20h-5.8zM368.0,1349.6h6.0v3.20h-6.0zM420.9,1349.6h6.0v3.20h-6.0zM358.4,1352.6h3.1v3.20h-3.1zM374.1,1352.6h9.2v3.20h-9.2zM414.3,1352.6h3.0v3.20h-3.0zM423.9,1352.6h3.0v3.20h-3.0zM364.7,1355.7h3.1v3.20h-3.1zM380.3,1355.7h6.2v3.20h-6.2zM405.4,1355.7h3.1v3.20h-3.1zM414.3,1355.7h6.6v3.20h-6.6zM423.9,1355.7h3.0v3.20h-3.0zM308.0,1358.7h1.0v3.20h-1.0zM315.1,1358.7h12.3v3.20h-12.3zM371.0,1358.7h3.1v3.20h-3.1zM386.5,1358.7h3.1v3.20h-3.1zM408.5,1358.7h5.8v3.20h-5.8zM420.9,1358.7h6.0v3.20h-6.0zM309.0,1361.8h3.0v3.20h-3.0zM318.3,1361.8h2.8v3.20h-2.8zM330.9,1361.8h11.8v3.20h-11.8zM377.2,1361.8h3.1v3.20h-3.1zM392.9,1361.8h24.4v3.20h-24.4zM420.9,1361.8h2.8v3.20h-2.8zM308.0,1364.8h10.1v3.20h-10.1zM321.4,1364.8h6.0v3.20h-6.0zM346.3,1364.8h12.1v3.20h-12.1zM386.6,1364.8h18.6v3.20h-18.6zM321.4,1367.9h15.4v3.20h-15.4zM340.3,1367.9h2.5v3.20h-2.5zM349.3,1367.9h2.8v3.20h-2.8zM355.4,1367.9h6.1v3.20h-6.1zM364.7,1367.9h6.3v3.20h-6.3zM374.1,1367.9h21.8v3.20h-21.8zM405.4,1367.9h3.1v3.20h-3.1zM414.3,1367.9h6.6v3.20h-6.6zM340.3,1370.9h8.8v3.20h-8.8zM355.4,1370.9h3.0v3.20h-3.0zM361.9,1370.9h2.8v3.20h-2.8zM371.0,1370.9h6.2v3.20h-6.2zM383.4,1370.9h3.1v3.20h-3.1zM402.2,1370.9h3.1v3.20h-3.1zM408.5,1370.9h5.8v3.20h-5.8zM352.3,1374.0h9.2v3.20h-9.2zM364.7,1374.0h18.6v3.20h-18.6zM386.5,1374.0h9.4v3.20h-9.4zM405.4,1374.0h3.1v3.20h-3.1z" fill="#000"/>
</svg>
<main id="sheet">
<div class="t b" style="left:490.40px;top:32.10px;font-size:50px;letter-spacing:-0.168px;transform-origin:0 42.00px;transform:scale(1.0,1.04);">MALLEABLE &amp; DROP-FORGED WIRE ROPE CLIPS</div>
<div class="t b" style="left:857.60px;top:118.40px;font-size:31px;letter-spacing:-0.049px;transform-origin:0 26.00px;transform:scale(1.0,1.04);">MALLEABLE, ZINC PLATED</div>
<div class="t b" style="left:1657.60px;top:118.40px;font-size:31px;letter-spacing:-0.119px;transform-origin:0 26.00px;transform:scale(1.0,1.04);">DROP-FORGED, HOT GALVANIZED</div>
<div class="t b" style="left:529.95px;top:228.10px;font-size:31px;letter-spacing:-0.309px;transform-origin:0 26.00px;transform:scale(1.0,1.04);-webkit-text-stroke:0.25px #000;">SIZE</div>
<div class="t b" style="left:698.65px;top:235.70px;font-size:31px;letter-spacing:-3.013px;transform-origin:0 26.00px;transform:scale(1.0,1.04);-webkit-text-stroke:0.25px #000;">STOCK</div>
<div class="t b" style="left:683.95px;top:273.80px;font-size:31px;letter-spacing:-2.352px;transform-origin:0 26.00px;transform:scale(1.0,1.04);-webkit-text-stroke:0.25px #000;">NUMBER</div>
<div class="t b" style="left:879.30px;top:218.00px;font-size:31px;letter-spacing:-2.564px;transform-origin:0 26.00px;transform:scale(1.0,1.04);-webkit-text-stroke:0.25px #000;">WEIGHT/</div>
<div class="t b" style="left:874.10px;top:254.90px;font-size:31px;letter-spacing:-2.546px;transform-origin:0 26.00px;transform:scale(1.0,1.04);-webkit-text-stroke:0.25px #000;">1OO PCS.</div>
<div class="t b" style="left:898.10px;top:292.60px;font-size:31px;letter-spacing:-2.187px;transform-origin:0 26.00px;transform:scale(1.0,1.04);-webkit-text-stroke:0.25px #000;">(LBS.)</div>
<div class="t b" style="left:1051.80px;top:218.00px;font-size:31px;letter-spacing:-2.174px;transform-origin:0 26.00px;transform:scale(1.0,1.04);-webkit-text-stroke:0.25px #000;">MIN.</div>
<div class="t b" style="left:1040.80px;top:254.90px;font-size:31px;letter-spacing:-2.578px;transform-origin:0 26.00px;transform:scale(1.0,1.04);-webkit-text-stroke:0.25px #000;">CLIPS</div>
<div class="t b" style="left:1036.25px;top:292.60px;font-size:31px;letter-spacing:-2.347px;transform-origin:0 26.00px;transform:scale(1.0,1.04);-webkit-text-stroke:0.25px #000;">REQ’D</div>
<div class="t b" style="left:1170.95px;top:218.00px;font-size:31px;letter-spacing:-2.755px;transform-origin:0 26.00px;transform:scale(1.0,1.04);-webkit-text-stroke:0.25px #000;">TORQUE</div>
<div class="t b" style="left:1181.15px;top:254.90px;font-size:31px;letter-spacing:-2.235px;transform-origin:0 26.00px;transform:scale(1.0,1.04);-webkit-text-stroke:0.25px #000;">IN LBS.</div>
<div class="t b" style="left:1205.15px;top:292.60px;font-size:31px;letter-spacing:-2.950px;transform-origin:0 26.00px;transform:scale(1.0,1.04);-webkit-text-stroke:0.25px #000;">FT.*</div>
<div class="t b" style="left:1365.20px;top:218.00px;font-size:31px;letter-spacing:-2.670px;transform-origin:0 26.00px;transform:scale(1.0,1.04);-webkit-text-stroke:0.25px #000;">TURN</div>
<div class="t b" style="left:1362.80px;top:254.90px;font-size:31px;letter-spacing:-3.554px;transform-origin:0 26.00px;transform:scale(1.0,1.04);-webkit-text-stroke:0.25px #000;">BACK</div>
<div class="t b" style="left:1345.95px;top:292.60px;font-size:31px;letter-spacing:-2.570px;transform-origin:0 26.00px;transform:scale(1.0,1.04);-webkit-text-stroke:0.25px #000;">LENGTH</div>
<div class="t b" style="left:1545.90px;top:235.70px;font-size:31px;letter-spacing:-3.013px;transform-origin:0 26.00px;transform:scale(1.0,1.04);-webkit-text-stroke:0.25px #000;">STOCK</div>
<div class="t b" style="left:1531.20px;top:273.80px;font-size:31px;letter-spacing:-2.352px;transform-origin:0 26.00px;transform:scale(1.0,1.04);-webkit-text-stroke:0.25px #000;">NUMBER</div>
<div class="t b" style="left:1726.00px;top:218.00px;font-size:31px;letter-spacing:-2.564px;transform-origin:0 26.00px;transform:scale(1.0,1.04);-webkit-text-stroke:0.25px #000;">WEIGHT/</div>
<div class="t b" style="left:1720.80px;top:254.90px;font-size:31px;letter-spacing:-2.546px;transform-origin:0 26.00px;transform:scale(1.0,1.04);-webkit-text-stroke:0.25px #000;">1OO PCS.</div>
<div class="t b" style="left:1744.80px;top:292.60px;font-size:31px;letter-spacing:-2.187px;transform-origin:0 26.00px;transform:scale(1.0,1.04);-webkit-text-stroke:0.25px #000;">(LBS.)</div>
<div class="t b" style="left:1905.70px;top:218.00px;font-size:31px;letter-spacing:-2.174px;transform-origin:0 26.00px;transform:scale(1.0,1.04);-webkit-text-stroke:0.25px #000;">MIN.</div>
<div class="t b" style="left:1894.70px;top:254.90px;font-size:31px;letter-spacing:-2.578px;transform-origin:0 26.00px;transform:scale(1.0,1.04);-webkit-text-stroke:0.25px #000;">CLIPS</div>
<div class="t b" style="left:1890.15px;top:292.60px;font-size:31px;letter-spacing:-2.347px;transform-origin:0 26.00px;transform:scale(1.0,1.04);-webkit-text-stroke:0.25px #000;">REQ’D</div>
<div class="t b" style="left:2027.10px;top:218.00px;font-size:31px;letter-spacing:-2.755px;transform-origin:0 26.00px;transform:scale(1.0,1.04);-webkit-text-stroke:0.25px #000;">TORQUE</div>
<div class="t b" style="left:2037.30px;top:254.90px;font-size:31px;letter-spacing:-2.235px;transform-origin:0 26.00px;transform:scale(1.0,1.04);-webkit-text-stroke:0.25px #000;">IN LBS.</div>
<div class="t b" style="left:2061.30px;top:292.60px;font-size:31px;letter-spacing:-2.950px;transform-origin:0 26.00px;transform:scale(1.0,1.04);-webkit-text-stroke:0.25px #000;">FT.*</div>
<div class="t b" style="left:2220.05px;top:218.00px;font-size:31px;letter-spacing:-2.670px;transform-origin:0 26.00px;transform:scale(1.0,1.04);-webkit-text-stroke:0.25px #000;">TURN</div>
<div class="t b" style="left:2217.65px;top:254.90px;font-size:31px;letter-spacing:-3.554px;transform-origin:0 26.00px;transform:scale(1.0,1.04);-webkit-text-stroke:0.25px #000;">BACK</div>
<div class="t b" style="left:2200.80px;top:292.60px;font-size:31px;letter-spacing:-2.570px;transform-origin:0 26.00px;transform:scale(1.0,1.04);-webkit-text-stroke:0.25px #000;">LENGTH</div>
<div class="t" style="left:525.92px;top:398.80px;font-size:31.9px;letter-spacing:-0.200px;transform-origin:0 26.00px;transform:scale(1.045,1.04);-webkit-text-stroke:0.2px #000;">1/16”</div>
<div class="t" style="left:665.10px;top:396.80px;font-size:31.9px;letter-spacing:0.411px;transform-origin:0 28.00px;transform:scale(1.0,1.04);-webkit-text-stroke:0.2px #000;"><span style="font-size:1.05em;">MWRC</span>062</div>
<div class="t" style="left:929.30px;top:398.80px;font-size:31.9px;transform-origin:0 26.00px;transform:scale(1.045,1.04);-webkit-text-stroke:0.2px #000;">3</div>
<div class="t" style="left:1072.64px;top:398.80px;font-size:31.9px;transform-origin:0 26.00px;transform:scale(1.045,1.04);-webkit-text-stroke:0.2px #000;">3</div>
<div class="t" style="left:1220.94px;top:398.80px;font-size:31.9px;transform-origin:0 26.00px;transform:scale(1.045,1.04);-webkit-text-stroke:0.2px #000;">2</div>
<div class="t" style="left:1389.14px;top:398.80px;font-size:31.9px;transform-origin:0 26.00px;transform:scale(1.045,1.04);-webkit-text-stroke:0.2px #000;">3”</div>
<div class="t" style="left:1589.00px;top:398.80px;font-size:31.9px;transform-origin:0 26.00px;transform:scale(1.045,1.04);-webkit-text-stroke:0.2px #000;">-</div>
<div class="t" style="left:1779.65px;top:398.80px;font-size:31.9px;transform-origin:0 26.00px;transform:scale(1.045,1.04);-webkit-text-stroke:0.2px #000;">-</div>
<div class="t" style="left:1930.20px;top:398.80px;font-size:31.9px;transform-origin:0 26.00px;transform:scale(1.045,1.04);-webkit-text-stroke:0.2px #000;">-</div>
<div class="t" style="left:2080.75px;top:398.80px;font-size:31.9px;transform-origin:0 26.00px;transform:scale(1.045,1.04);-webkit-text-stroke:0.2px #000;">-</div>
<div class="t" style="left:2253.25px;top:398.80px;font-size:31.9px;transform-origin:0 26.00px;transform:scale(1.045,1.04);-webkit-text-stroke:0.2px #000;">-</div>
<div class="t" style="left:535.08px;top:458.80px;font-size:31.9px;letter-spacing:-0.200px;transform-origin:0 26.00px;transform:scale(1.045,1.04);-webkit-text-stroke:0.2px #000;">1/8”</div>
<div class="t" style="left:665.10px;top:456.80px;font-size:31.9px;letter-spacing:0.411px;transform-origin:0 28.00px;transform:scale(1.0,1.04);-webkit-text-stroke:0.2px #000;"><span style="font-size:1.05em;">MWRC</span>125</div>
<div class="t" style="left:929.82px;top:458.80px;font-size:31.9px;transform-origin:0 26.00px;transform:scale(1.045,1.04);-webkit-text-stroke:0.2px #000;">4</div>
<div class="t" style="left:1072.64px;top:458.80px;font-size:31.9px;transform-origin:0 26.00px;transform:scale(1.045,1.04);-webkit-text-stroke:0.2px #000;">3</div>
<div class="t" style="left:1220.94px;top:458.80px;font-size:31.9px;transform-origin:0 26.00px;transform:scale(1.045,1.04);-webkit-text-stroke:0.2px #000;">3</div>
<div class="t" style="left:1361.86px;top:458.80px;font-size:31.9px;transform-origin:0 26.00px;transform:scale(1.045,1.04);-webkit-text-stroke:0.2px #000;">4 3/4”</div>
<div class="t" style="left:1514.89px;top:456.80px;font-size:31.9px;letter-spacing:-1.047px;transform-origin:0 28.00px;transform:scale(0.93,1.04);-webkit-text-stroke:0.2px #000;"><span style="font-size:1.05em;">DFWRC</span>125</div>
<div class="t" style="left:1775.99px;top:458.80px;font-size:31.9px;transform-origin:0 26.00px;transform:scale(1.045,1.04);-webkit-text-stroke:0.2px #000;">5</div>
<div class="t" style="left:1926.54px;top:458.80px;font-size:31.9px;transform-origin:0 26.00px;transform:scale(1.045,1.04);-webkit-text-stroke:0.2px #000;">2</div>
<div class="t" style="left:2063.72px;top:458.80px;font-size:31.9px;transform-origin:0 26.00px;transform:scale(1.045,1.04);-webkit-text-stroke:0.2px #000;">4.5</div>
<div class="t" style="left:2216.19px;top:458.80px;font-size:31.9px;transform-origin:0 26.00px;transform:scale(1.045,1.04);-webkit-text-stroke:0.2px #000;">3 1/4”</div>
<div class="t" style="left:526.44px;top:513.98px;font-size:31.9px;letter-spacing:-0.200px;transform-origin:0 26.00px;transform:scale(1.045,1.04);-webkit-text-stroke:0.2px #000;">3/16”</div>
<div class="t" style="left:665.10px;top:511.98px;font-size:31.9px;letter-spacing:0.411px;transform-origin:0 28.00px;transform:scale(1.0,1.04);-webkit-text-stroke:0.2px #000;"><span style="font-size:1.05em;">MWRC</span>187</div>
<div class="t" style="left:929.30px;top:513.98px;font-size:31.9px;transform-origin:0 26.00px;transform:scale(1.045,1.04);-webkit-text-stroke:0.2px #000;">7</div>
<div class="t" style="left:1072.64px;top:513.98px;font-size:31.9px;transform-origin:0 26.00px;transform:scale(1.045,1.04);-webkit-text-stroke:0.2px #000;">3</div>
<div class="t" style="left:1207.57px;top:513.98px;font-size:31.9px;transform-origin:0 26.00px;transform:scale(1.045,1.04);-webkit-text-stroke:0.2px #000;">4.5</div>
<div class="t" style="left:1361.34px;top:513.98px;font-size:31.9px;transform-origin:0 26.00px;transform:scale(1.045,1.04);-webkit-text-stroke:0.2px #000;">5 1/2”</div>
<div class="t" style="left:1514.89px;top:511.98px;font-size:31.9px;letter-spacing:-1.047px;transform-origin:0 28.00px;transform:scale(0.93,1.04);-webkit-text-stroke:0.2px #000;"><span style="font-size:1.05em;">DFWRC</span>187</div>
<div class="t" style="left:1766.21px;top:513.98px;font-size:31.9px;transform-origin:0 26.00px;transform:scale(1.045,1.04);-webkit-text-stroke:0.2px #000;">10</div>
<div class="t" style="left:1926.54px;top:513.98px;font-size:31.9px;transform-origin:0 26.00px;transform:scale(1.045,1.04);-webkit-text-stroke:0.2px #000;">2</div>
<div class="t" style="left:2063.20px;top:513.98px;font-size:31.9px;transform-origin:0 26.00px;transform:scale(1.045,1.04);-webkit-text-stroke:0.2px #000;">7.5</div>
<div class="t" style="left:2221.19px;top:513.98px;font-size:31.9px;transform-origin:0 26.00px;transform:scale(1.045,1.04);-webkit-text-stroke:0.2px #000;">3 1/4”</div>
<div class="t" style="left:535.08px;top:569.15px;font-size:31.9px;letter-spacing:-0.200px;transform-origin:0 26.00px;transform:scale(1.045,1.04);-webkit-text-stroke:0.2px #000;">1/4”</div>
<div class="t" style="left:665.10px;top:567.15px;font-size:31.9px;letter-spacing:0.411px;transform-origin:0 28.00px;transform:scale(1.0,1.04);-webkit-text-stroke:0.2px #000;"><span style="font-size:1.05em;">MWRC</span>250</div>
<div class="t" style="left:919.51px;top:569.15px;font-size:31.9px;transform-origin:0 26.00px;transform:scale(1.045,1.04);-webkit-text-stroke:0.2px #000;">14</div>
<div class="t" style="left:1072.64px;top:569.15px;font-size:31.9px;transform-origin:0 26.00px;transform:scale(1.045,1.04);-webkit-text-stroke:0.2px #000;">3</div>
<div class="t" style="left:1211.16px;top:569.15px;font-size:31.9px;transform-origin:0 26.00px;transform:scale(1.045,1.04);-webkit-text-stroke:0.2px #000;">15</div>
<div class="t" style="left:1389.14px;top:569.15px;font-size:31.9px;transform-origin:0 26.00px;transform:scale(1.045,1.04);-webkit-text-stroke:0.2px #000;">7”</div>
<div class="t" style="left:1514.89px;top:567.15px;font-size:31.9px;letter-spacing:-1.047px;transform-origin:0 28.00px;transform:scale(0.93,1.04);-webkit-text-stroke:0.2px #000;"><span style="font-size:1.05em;">DFWRC</span>250</div>
<div class="t" style="left:1766.21px;top:569.15px;font-size:31.9px;transform-origin:0 26.00px;transform:scale(1.045,1.04);-webkit-text-stroke:0.2px #000;">18</div>
<div class="t" style="left:1926.54px;top:569.15px;font-size:31.9px;transform-origin:0 26.00px;transform:scale(1.045,1.04);-webkit-text-stroke:0.2px #000;">2</div>
<div class="t" style="left:2067.31px;top:569.15px;font-size:31.9px;transform-origin:0 26.00px;transform:scale(1.045,1.04);-webkit-text-stroke:0.2px #000;">15</div>
<div class="t" style="left:2216.71px;top:569.15px;font-size:31.9px;transform-origin:0 26.00px;transform:scale(1.045,1.04);-webkit-text-stroke:0.2px #000;">4 3/4”</div>
<div class="t" style="left:526.44px;top:624.33px;font-size:31.9px;letter-spacing:-0.200px;transform-origin:0 26.00px;transform:scale(1.045,1.04);-webkit-text-stroke:0.2px #000;">5/16”</div>
<div class="t" style="left:665.10px;top:622.33px;font-size:31.9px;letter-spacing:0.411px;transform-origin:0 28.00px;transform:scale(1.0,1.04);-webkit-text-stroke:0.2px #000;"><span style="font-size:1.05em;">MWRC</span>312</div>
<div class="t" style="left:919.51px;top:624.33px;font-size:31.9px;transform-origin:0 26.00px;transform:scale(1.045,1.04);-webkit-text-stroke:0.2px #000;">15</div>
<div class="t" style="left:1072.64px;top:624.33px;font-size:31.9px;transform-origin:0 26.00px;transform:scale(1.045,1.04);-webkit-text-stroke:0.2px #000;">3</div>
<div class="t" style="left:1211.16px;top:624.33px;font-size:31.9px;transform-origin:0 26.00px;transform:scale(1.045,1.04);-webkit-text-stroke:0.2px #000;">15</div>
<div class="t" style="left:1361.34px;top:624.33px;font-size:31.9px;transform-origin:0 26.00px;transform:scale(1.045,1.04);-webkit-text-stroke:0.2px #000;">7 3/4”</div>
<div class="t" style="left:1514.89px;top:622.33px;font-size:31.9px;letter-spacing:-1.047px;transform-origin:0 28.00px;transform:scale(0.93,1.04);-webkit-text-stroke:0.2px #000;"><span style="font-size:1.05em;">DFWRC</span>312</div>
<div class="t" style="left:1766.73px;top:624.33px;font-size:31.9px;transform-origin:0 26.00px;transform:scale(1.045,1.04);-webkit-text-stroke:0.2px #000;">31</div>
<div class="t" style="left:1926.54px;top:624.33px;font-size:31.9px;transform-origin:0 26.00px;transform:scale(1.045,1.04);-webkit-text-stroke:0.2px #000;">2</div>
<div class="t" style="left:2067.83px;top:624.33px;font-size:31.9px;transform-origin:0 26.00px;transform:scale(1.045,1.04);-webkit-text-stroke:0.2px #000;">30</div>
<div class="t" style="left:2216.19px;top:624.33px;font-size:31.9px;transform-origin:0 26.00px;transform:scale(1.045,1.04);-webkit-text-stroke:0.2px #000;">5 1/4”</div>
<div class="t" style="left:535.60px;top:679.50px;font-size:31.9px;letter-spacing:-0.200px;transform-origin:0 26.00px;transform:scale(1.045,1.04);-webkit-text-stroke:0.2px #000;">3/8”</div>
<div class="t" style="left:665.10px;top:677.50px;font-size:31.9px;letter-spacing:0.411px;transform-origin:0 28.00px;transform:scale(1.0,1.04);-webkit-text-stroke:0.2px #000;"><span style="font-size:1.05em;">MWRC</span>375</div>
<div class="t" style="left:920.03px;top:679.50px;font-size:31.9px;transform-origin:0 26.00px;transform:scale(1.045,1.04);-webkit-text-stroke:0.2px #000;">21</div>
<div class="t" style="left:1072.64px;top:679.50px;font-size:31.9px;transform-origin:0 26.00px;transform:scale(1.045,1.04);-webkit-text-stroke:0.2px #000;">3</div>
<div class="t" style="left:1211.68px;top:679.50px;font-size:31.9px;transform-origin:0 26.00px;transform:scale(1.045,1.04);-webkit-text-stroke:0.2px #000;">30</div>
<div class="t" style="left:1361.34px;top:679.50px;font-size:31.9px;transform-origin:0 26.00px;transform:scale(1.045,1.04);-webkit-text-stroke:0.2px #000;">9 1/2”</div>
<div class="t" style="left:1514.89px;top:677.50px;font-size:31.9px;letter-spacing:-1.047px;transform-origin:0 28.00px;transform:scale(0.93,1.04);-webkit-text-stroke:0.2px #000;"><span style="font-size:1.05em;">DFWRC</span>375</div>
<div class="t" style="left:1767.25px;top:679.50px;font-size:31.9px;transform-origin:0 26.00px;transform:scale(1.045,1.04);-webkit-text-stroke:0.2px #000;">46</div>
<div class="t" style="left:1926.54px;top:679.50px;font-size:31.9px;transform-origin:0 26.00px;transform:scale(1.045,1.04);-webkit-text-stroke:0.2px #000;">2</div>
<div class="t" style="left:2068.35px;top:679.50px;font-size:31.9px;transform-origin:0 26.00px;transform:scale(1.045,1.04);-webkit-text-stroke:0.2px #000;">45</div>
<div class="t" style="left:2216.19px;top:679.50px;font-size:31.9px;transform-origin:0 26.00px;transform:scale(1.045,1.04);-webkit-text-stroke:0.2px #000;">6 1/2”</div>
<div class="t" style="left:526.44px;top:734.67px;font-size:31.9px;letter-spacing:-0.200px;transform-origin:0 26.00px;transform:scale(1.045,1.04);-webkit-text-stroke:0.2px #000;">7/16”</div>
<div class="t" style="left:665.10px;top:732.67px;font-size:31.9px;letter-spacing:0.411px;transform-origin:0 28.00px;transform:scale(1.0,1.04);-webkit-text-stroke:0.2px #000;"><span style="font-size:1.05em;">MWRC</span>437</div>
<div class="t" style="left:920.03px;top:734.67px;font-size:31.9px;transform-origin:0 26.00px;transform:scale(1.045,1.04);-webkit-text-stroke:0.2px #000;">37</div>
<div class="t" style="left:1073.17px;top:734.67px;font-size:31.9px;transform-origin:0 26.00px;transform:scale(1.045,1.04);-webkit-text-stroke:0.2px #000;">4</div>
<div class="t" style="left:1212.20px;top:734.67px;font-size:31.9px;transform-origin:0 26.00px;transform:scale(1.045,1.04);-webkit-text-stroke:0.2px #000;">40</div>
<div class="t" style="left:1351.55px;top:734.67px;font-size:31.9px;transform-origin:0 26.00px;transform:scale(1.045,1.04);-webkit-text-stroke:0.2px #000;">10 1/4”</div>
<div class="t" style="left:1514.89px;top:732.67px;font-size:31.9px;letter-spacing:-1.047px;transform-origin:0 28.00px;transform:scale(0.93,1.04);-webkit-text-stroke:0.2px #000;"><span style="font-size:1.05em;">DFWRC</span>437</div>
<div class="t" style="left:1766.73px;top:734.67px;font-size:31.9px;transform-origin:0 26.00px;transform:scale(1.045,1.04);-webkit-text-stroke:0.2px #000;">73</div>
<div class="t" style="left:1926.54px;top:734.67px;font-size:31.9px;transform-origin:0 26.00px;transform:scale(1.045,1.04);-webkit-text-stroke:0.2px #000;">3</div>
<div class="t" style="left:2067.83px;top:734.67px;font-size:31.9px;transform-origin:0 26.00px;transform:scale(1.045,1.04);-webkit-text-stroke:0.2px #000;">65</div>
<div class="t" style="left:2243.99px;top:734.67px;font-size:31.9px;transform-origin:0 26.00px;transform:scale(1.045,1.04);-webkit-text-stroke:0.2px #000;">7”</div>
<div class="t" style="left:535.08px;top:789.85px;font-size:31.9px;letter-spacing:-0.200px;transform-origin:0 26.00px;transform:scale(1.045,1.04);-webkit-text-stroke:0.2px #000;">1/2”</div>
<div class="t" style="left:665.10px;top:787.85px;font-size:31.9px;letter-spacing:0.411px;transform-origin:0 28.00px;transform:scale(1.0,1.04);-webkit-text-stroke:0.2px #000;"><span style="font-size:1.05em;">MWRC</span>500</div>
<div class="t" style="left:920.03px;top:789.85px;font-size:31.9px;transform-origin:0 26.00px;transform:scale(1.045,1.04);-webkit-text-stroke:0.2px #000;">38</div>
<div class="t" style="left:1073.17px;top:789.85px;font-size:31.9px;transform-origin:0 26.00px;transform:scale(1.045,1.04);-webkit-text-stroke:0.2px #000;">4</div>
<div class="t" style="left:1212.20px;top:789.85px;font-size:31.9px;transform-origin:0 26.00px;transform:scale(1.045,1.04);-webkit-text-stroke:0.2px #000;">45</div>
<div class="t" style="left:1351.55px;top:789.85px;font-size:31.9px;transform-origin:0 26.00px;transform:scale(1.045,1.04);-webkit-text-stroke:0.2px #000;">15 1/4”</div>
<div class="t" style="left:1514.89px;top:787.85px;font-size:31.9px;letter-spacing:-1.047px;transform-origin:0 28.00px;transform:scale(0.93,1.04);-webkit-text-stroke:0.2px #000;"><span style="font-size:1.05em;">DFWRC</span>500</div>
<div class="t" style="left:1766.73px;top:789.85px;font-size:31.9px;transform-origin:0 26.00px;transform:scale(1.045,1.04);-webkit-text-stroke:0.2px #000;">73</div>
<div class="t" style="left:1926.54px;top:789.85px;font-size:31.9px;transform-origin:0 26.00px;transform:scale(1.045,1.04);-webkit-text-stroke:0.2px #000;">3</div>
<div class="t" style="left:2067.83px;top:789.85px;font-size:31.9px;transform-origin:0 26.00px;transform:scale(1.045,1.04);-webkit-text-stroke:0.2px #000;">65</div>
<div class="t" style="left:2207.64px;top:789.85px;font-size:31.9px;transform-origin:0 26.00px;transform:scale(1.045,1.04);-webkit-text-stroke:0.2px #000;">11 1/2”</div>
<div class="t" style="left:526.44px;top:845.02px;font-size:31.9px;letter-spacing:-0.200px;transform-origin:0 26.00px;transform:scale(1.045,1.04);-webkit-text-stroke:0.2px #000;">9/16”</div>
<div class="t" style="left:665.10px;top:843.02px;font-size:31.9px;letter-spacing:0.411px;transform-origin:0 28.00px;transform:scale(1.0,1.04);-webkit-text-stroke:0.2px #000;"><span style="font-size:1.05em;">MWRC</span>562</div>
<div class="t" style="left:920.03px;top:845.02px;font-size:31.9px;transform-origin:0 26.00px;transform:scale(1.045,1.04);-webkit-text-stroke:0.2px #000;">59</div>
<div class="t" style="left:1073.17px;top:845.02px;font-size:31.9px;transform-origin:0 26.00px;transform:scale(1.045,1.04);-webkit-text-stroke:0.2px #000;">4</div>
<div class="t" style="left:1211.68px;top:845.02px;font-size:31.9px;transform-origin:0 26.00px;transform:scale(1.045,1.04);-webkit-text-stroke:0.2px #000;">50</div>
<div class="t" style="left:1379.35px;top:845.02px;font-size:31.9px;transform-origin:0 26.00px;transform:scale(1.045,1.04);-webkit-text-stroke:0.2px #000;">16”</div>
<div class="t" style="left:1514.89px;top:843.02px;font-size:31.9px;letter-spacing:-1.047px;transform-origin:0 28.00px;transform:scale(0.93,1.04);-webkit-text-stroke:0.2px #000;"><span style="font-size:1.05em;">DFWRC</span>562</div>
<div class="t" style="left:1766.73px;top:845.02px;font-size:31.9px;transform-origin:0 26.00px;transform:scale(1.045,1.04);-webkit-text-stroke:0.2px #000;">96</div>
<div class="t" style="left:1926.54px;top:845.02px;font-size:31.9px;transform-origin:0 26.00px;transform:scale(1.045,1.04);-webkit-text-stroke:0.2px #000;">3</div>
<div class="t" style="left:2067.83px;top:845.02px;font-size:31.9px;transform-origin:0 26.00px;transform:scale(1.045,1.04);-webkit-text-stroke:0.2px #000;">95</div>
<div class="t" style="left:2234.20px;top:845.02px;font-size:31.9px;transform-origin:0 26.00px;transform:scale(1.045,1.04);-webkit-text-stroke:0.2px #000;">12”</div>
<div class="t" style="left:535.60px;top:900.20px;font-size:31.9px;letter-spacing:-0.200px;transform-origin:0 26.00px;transform:scale(1.045,1.04);-webkit-text-stroke:0.2px #000;">5/8”</div>
<div class="t" style="left:665.10px;top:898.20px;font-size:31.9px;letter-spacing:0.411px;transform-origin:0 28.00px;transform:scale(1.0,1.04);-webkit-text-stroke:0.2px #000;"><span style="font-size:1.05em;">MWRC</span>625</div>
<div class="t" style="left:920.03px;top:900.20px;font-size:31.9px;transform-origin:0 26.00px;transform:scale(1.045,1.04);-webkit-text-stroke:0.2px #000;">59</div>
<div class="t" style="left:1073.17px;top:900.20px;font-size:31.9px;transform-origin:0 26.00px;transform:scale(1.045,1.04);-webkit-text-stroke:0.2px #000;">4</div>
<div class="t" style="left:1211.68px;top:900.20px;font-size:31.9px;transform-origin:0 26.00px;transform:scale(1.045,1.04);-webkit-text-stroke:0.2px #000;">75</div>
<div class="t" style="left:1379.35px;top:900.20px;font-size:31.9px;transform-origin:0 26.00px;transform:scale(1.045,1.04);-webkit-text-stroke:0.2px #000;">16”</div>
<div class="t" style="left:1514.89px;top:898.20px;font-size:31.9px;letter-spacing:-1.047px;transform-origin:0 28.00px;transform:scale(0.93,1.04);-webkit-text-stroke:0.2px #000;"><span style="font-size:1.05em;">DFWRC</span>625</div>
<div class="t" style="left:1756.94px;top:900.20px;font-size:31.9px;transform-origin:0 26.00px;transform:scale(1.045,1.04);-webkit-text-stroke:0.2px #000;">104</div>
<div class="t" style="left:1926.54px;top:900.20px;font-size:31.9px;transform-origin:0 26.00px;transform:scale(1.045,1.04);-webkit-text-stroke:0.2px #000;">3</div>
<div class="t" style="left:2067.83px;top:900.20px;font-size:31.9px;transform-origin:0 26.00px;transform:scale(1.045,1.04);-webkit-text-stroke:0.2px #000;">95</div>
<div class="t" style="left:2234.20px;top:900.20px;font-size:31.9px;transform-origin:0 26.00px;transform:scale(1.045,1.04);-webkit-text-stroke:0.2px #000;">12”</div>
<div class="t" style="left:535.60px;top:955.38px;font-size:31.9px;letter-spacing:-0.200px;transform-origin:0 26.00px;transform:scale(1.045,1.04);-webkit-text-stroke:0.2px #000;">3/4”</div>
<div class="t" style="left:665.10px;top:953.38px;font-size:31.9px;letter-spacing:0.411px;transform-origin:0 28.00px;transform:scale(1.0,1.04);-webkit-text-stroke:0.2px #000;"><span style="font-size:1.05em;">MWRC</span>750</div>
<div class="t" style="left:920.03px;top:955.38px;font-size:31.9px;transform-origin:0 26.00px;transform:scale(1.045,1.04);-webkit-text-stroke:0.2px #000;">84</div>
<div class="t" style="left:1072.64px;top:955.38px;font-size:31.9px;transform-origin:0 26.00px;transform:scale(1.045,1.04);-webkit-text-stroke:0.2px #000;">5</div>
<div class="t" style="left:1211.68px;top:955.38px;font-size:31.9px;transform-origin:0 26.00px;transform:scale(1.045,1.04);-webkit-text-stroke:0.2px #000;">75</div>
<div class="t" style="left:1352.08px;top:955.38px;font-size:31.9px;transform-origin:0 26.00px;transform:scale(1.045,1.04);-webkit-text-stroke:0.2px #000;">22 1/4”</div>
<div class="t" style="left:1514.89px;top:953.38px;font-size:31.9px;letter-spacing:-1.047px;transform-origin:0 28.00px;transform:scale(0.93,1.04);-webkit-text-stroke:0.2px #000;"><span style="font-size:1.05em;">DFWRC</span>750</div>
<div class="t" style="left:1756.94px;top:955.38px;font-size:31.9px;transform-origin:0 26.00px;transform:scale(1.045,1.04);-webkit-text-stroke:0.2px #000;">150</div>
<div class="t" style="left:1927.07px;top:955.38px;font-size:31.9px;transform-origin:0 26.00px;transform:scale(1.045,1.04);-webkit-text-stroke:0.2px #000;">4</div>
<div class="t" style="left:2058.04px;top:955.38px;font-size:31.9px;transform-origin:0 26.00px;transform:scale(1.045,1.04);-webkit-text-stroke:0.2px #000;">130</div>
<div class="t" style="left:2234.20px;top:955.38px;font-size:31.9px;transform-origin:0 26.00px;transform:scale(1.045,1.04);-webkit-text-stroke:0.2px #000;">18”</div>
<div class="t" style="left:535.60px;top:1010.55px;font-size:31.9px;letter-spacing:-0.200px;transform-origin:0 26.00px;transform:scale(1.045,1.04);-webkit-text-stroke:0.2px #000;">7/8”</div>
<div class="t" style="left:665.10px;top:1008.55px;font-size:31.9px;letter-spacing:0.411px;transform-origin:0 28.00px;transform:scale(1.0,1.04);-webkit-text-stroke:0.2px #000;"><span style="font-size:1.05em;">MWRC</span>875</div>
<div class="t" style="left:910.24px;top:1010.55px;font-size:31.9px;transform-origin:0 26.00px;transform:scale(1.045,1.04);-webkit-text-stroke:0.2px #000;">125</div>
<div class="t" style="left:1072.64px;top:1010.55px;font-size:31.9px;transform-origin:0 26.00px;transform:scale(1.045,1.04);-webkit-text-stroke:0.2px #000;">5</div>
<div class="t" style="left:1201.89px;top:1010.55px;font-size:31.9px;transform-origin:0 26.00px;transform:scale(1.045,1.04);-webkit-text-stroke:0.2px #000;">130</div>
<div class="t" style="left:1352.08px;top:1010.55px;font-size:31.9px;transform-origin:0 26.00px;transform:scale(1.045,1.04);-webkit-text-stroke:0.2px #000;">23 1/2”</div>
<div class="t" style="left:1514.89px;top:1008.55px;font-size:31.9px;letter-spacing:-1.047px;transform-origin:0 28.00px;transform:scale(0.93,1.04);-webkit-text-stroke:0.2px #000;"><span style="font-size:1.05em;">DFWRC</span>875</div>
<div class="t" style="left:1757.46px;top:1010.55px;font-size:31.9px;transform-origin:0 26.00px;transform:scale(1.045,1.04);-webkit-text-stroke:0.2px #000;">244</div>
<div class="t" style="left:1927.07px;top:1010.55px;font-size:31.9px;transform-origin:0 26.00px;transform:scale(1.045,1.04);-webkit-text-stroke:0.2px #000;">4</div>
<div class="t" style="left:2058.56px;top:1010.55px;font-size:31.9px;transform-origin:0 26.00px;transform:scale(1.045,1.04);-webkit-text-stroke:0.2px #000;">225</div>
<div class="t" style="left:2234.20px;top:1010.55px;font-size:31.9px;transform-origin:0 26.00px;transform:scale(1.045,1.04);-webkit-text-stroke:0.2px #000;">19”</div>
<div class="t" style="left:548.77px;top:1065.72px;font-size:31.9px;letter-spacing:-0.200px;transform-origin:0 26.00px;transform:scale(1.045,1.04);-webkit-text-stroke:0.2px #000;">1”</div>
<div class="t" style="left:665.10px;top:1063.72px;font-size:31.9px;letter-spacing:0.411px;transform-origin:0 28.00px;transform:scale(1.0,1.04);-webkit-text-stroke:0.2px #000;"><span style="font-size:1.05em;">MWRC</span>100</div>
<div class="t" style="left:910.24px;top:1065.72px;font-size:31.9px;transform-origin:0 26.00px;transform:scale(1.045,1.04);-webkit-text-stroke:0.2px #000;">166</div>
<div class="t" style="left:1072.64px;top:1065.72px;font-size:31.9px;transform-origin:0 26.00px;transform:scale(1.045,1.04);-webkit-text-stroke:0.2px #000;">6</div>
<div class="t" style="left:1201.89px;top:1065.72px;font-size:31.9px;transform-origin:0 26.00px;transform:scale(1.045,1.04);-webkit-text-stroke:0.2px #000;">130</div>
<div class="t" style="left:1379.87px;top:1065.72px;font-size:31.9px;transform-origin:0 26.00px;transform:scale(1.045,1.04);-webkit-text-stroke:0.2px #000;">31”</div>
<div class="t" style="left:1514.89px;top:1063.72px;font-size:31.9px;letter-spacing:-1.047px;transform-origin:0 28.00px;transform:scale(0.93,1.04);-webkit-text-stroke:0.2px #000;"><span style="font-size:1.05em;">DFWRC</span>100</div>
<div class="t" style="left:1757.46px;top:1065.72px;font-size:31.9px;transform-origin:0 26.00px;transform:scale(1.045,1.04);-webkit-text-stroke:0.2px #000;">270</div>
<div class="t" style="left:1926.54px;top:1065.72px;font-size:31.9px;transform-origin:0 26.00px;transform:scale(1.045,1.04);-webkit-text-stroke:0.2px #000;">5</div>
<div class="t" style="left:2058.56px;top:1065.72px;font-size:31.9px;transform-origin:0 26.00px;transform:scale(1.045,1.04);-webkit-text-stroke:0.2px #000;">225</div>
<div class="t" style="left:2234.72px;top:1065.72px;font-size:31.9px;transform-origin:0 26.00px;transform:scale(1.045,1.04);-webkit-text-stroke:0.2px #000;">26”</div>
<div class="t" style="left:521.39px;top:1120.90px;font-size:31.9px;letter-spacing:-0.200px;transform-origin:0 26.00px;transform:scale(1.045,1.04);-webkit-text-stroke:0.2px #000;">1 1/8”</div>
<div class="t" style="left:665.24px;top:1118.90px;font-size:31.9px;letter-spacing:-0.114px;transform-origin:0 28.00px;transform:scale(0.93,1.04);-webkit-text-stroke:0.2px #000;"><span style="font-size:1.05em;">MWRC</span>1125</div>
<div class="t" style="left:912.00px;top:1120.90px;font-size:31.9px;transform-origin:0 26.00px;transform:scale(1.045,1.04);-webkit-text-stroke:0.2px #000;">211</div>
<div class="t" style="left:1072.64px;top:1120.90px;font-size:31.9px;transform-origin:0 26.00px;transform:scale(1.045,1.04);-webkit-text-stroke:0.2px #000;">7</div>
<div class="t" style="left:1202.41px;top:1120.90px;font-size:31.9px;transform-origin:0 26.00px;transform:scale(1.045,1.04);-webkit-text-stroke:0.2px #000;">200</div>
<div class="t" style="left:1352.08px;top:1120.90px;font-size:31.9px;transform-origin:0 26.00px;transform:scale(1.045,1.04);-webkit-text-stroke:0.2px #000;">39 1/2”</div>
<div class="t" style="left:1507.64px;top:1118.90px;font-size:31.9px;letter-spacing:-0.889px;transform-origin:0 28.00px;transform:scale(0.93,1.04);-webkit-text-stroke:0.2px #000;"><span style="font-size:1.05em;">DFWRC</span>1125</div>
<div class="t" style="left:1757.46px;top:1120.90px;font-size:31.9px;transform-origin:0 26.00px;transform:scale(1.045,1.04);-webkit-text-stroke:0.2px #000;">310</div>
<div class="t" style="left:1926.54px;top:1120.90px;font-size:31.9px;transform-origin:0 26.00px;transform:scale(1.045,1.04);-webkit-text-stroke:0.2px #000;">6</div>
<div class="t" style="left:2058.56px;top:1120.90px;font-size:31.9px;transform-origin:0 26.00px;transform:scale(1.045,1.04);-webkit-text-stroke:0.2px #000;">225</div>
<div class="t" style="left:2234.72px;top:1120.90px;font-size:31.9px;transform-origin:0 26.00px;transform:scale(1.045,1.04);-webkit-text-stroke:0.2px #000;">34”</div>
<div class="t" style="left:521.39px;top:1176.08px;font-size:31.9px;letter-spacing:-0.200px;transform-origin:0 26.00px;transform:scale(1.045,1.04);-webkit-text-stroke:0.2px #000;">1 1/4”</div>
<div class="t" style="left:741.75px;top:1176.08px;font-size:31.9px;transform-origin:0 26.00px;transform:scale(1.045,1.04);-webkit-text-stroke:0.2px #000;">-</div>
<div class="t" style="left:932.95px;top:1176.08px;font-size:31.9px;transform-origin:0 26.00px;transform:scale(1.045,1.04);-webkit-text-stroke:0.2px #000;">-</div>
<div class="t" style="left:1076.30px;top:1176.08px;font-size:31.9px;transform-origin:0 26.00px;transform:scale(1.045,1.04);-webkit-text-stroke:0.2px #000;">-</div>
<div class="t" style="left:1224.60px;top:1176.08px;font-size:31.9px;transform-origin:0 26.00px;transform:scale(1.045,1.04);-webkit-text-stroke:0.2px #000;">-</div>
<div class="t" style="left:1398.40px;top:1176.08px;font-size:31.9px;transform-origin:0 26.00px;transform:scale(1.045,1.04);-webkit-text-stroke:0.2px #000;">-</div>
<div class="t" style="left:1507.64px;top:1174.08px;font-size:31.9px;letter-spacing:-1.185px;transform-origin:0 28.00px;transform:scale(0.93,1.04);-webkit-text-stroke:0.2px #000;"><span style="font-size:1.05em;">DFWRC</span>1250</div>
<div class="t" style="left:1757.98px;top:1176.08px;font-size:31.9px;transform-origin:0 26.00px;transform:scale(1.045,1.04);-webkit-text-stroke:0.2px #000;">460</div>
<div class="t" style="left:1926.54px;top:1176.08px;font-size:31.9px;transform-origin:0 26.00px;transform:scale(1.045,1.04);-webkit-text-stroke:0.2px #000;">7</div>
<div class="t" style="left:2058.56px;top:1176.08px;font-size:31.9px;transform-origin:0 26.00px;transform:scale(1.045,1.04);-webkit-text-stroke:0.2px #000;">360</div>
<div class="t" style="left:2235.24px;top:1176.08px;font-size:31.9px;transform-origin:0 26.00px;transform:scale(1.045,1.04);-webkit-text-stroke:0.2px #000;">44”</div>
<div class="t" style="left:521.39px;top:1231.25px;font-size:31.9px;letter-spacing:-0.200px;transform-origin:0 26.00px;transform:scale(1.045,1.04);-webkit-text-stroke:0.2px #000;">1 3/8”</div>
<div class="t" style="left:741.75px;top:1231.25px;font-size:31.9px;transform-origin:0 26.00px;transform:scale(1.045,1.04);-webkit-text-stroke:0.2px #000;">-</div>
<div class="t" style="left:932.95px;top:1231.25px;font-size:31.9px;transform-origin:0 26.00px;transform:scale(1.045,1.04);-webkit-text-stroke:0.2px #000;">-</div>
<div class="t" style="left:1076.30px;top:1231.25px;font-size:31.9px;transform-origin:0 26.00px;transform:scale(1.045,1.04);-webkit-text-stroke:0.2px #000;">-</div>
<div class="t" style="left:1224.60px;top:1231.25px;font-size:31.9px;transform-origin:0 26.00px;transform:scale(1.045,1.04);-webkit-text-stroke:0.2px #000;">-</div>
<div class="t" style="left:1398.40px;top:1231.25px;font-size:31.9px;transform-origin:0 26.00px;transform:scale(1.045,1.04);-webkit-text-stroke:0.2px #000;">-</div>
<div class="t" style="left:1507.64px;top:1229.25px;font-size:31.9px;letter-spacing:-1.185px;transform-origin:0 28.00px;transform:scale(0.93,1.04);-webkit-text-stroke:0.2px #000;"><span style="font-size:1.05em;">DFWRC</span>1375</div>
<div class="t" style="left:1757.46px;top:1231.25px;font-size:31.9px;transform-origin:0 26.00px;transform:scale(1.045,1.04);-webkit-text-stroke:0.2px #000;">520</div>
<div class="t" style="left:1926.54px;top:1231.25px;font-size:31.9px;transform-origin:0 26.00px;transform:scale(1.045,1.04);-webkit-text-stroke:0.2px #000;">7</div>
<div class="t" style="left:2058.56px;top:1231.25px;font-size:31.9px;transform-origin:0 26.00px;transform:scale(1.045,1.04);-webkit-text-stroke:0.2px #000;">360</div>
<div class="t" style="left:2235.24px;top:1231.25px;font-size:31.9px;transform-origin:0 26.00px;transform:scale(1.045,1.04);-webkit-text-stroke:0.2px #000;">44”</div>
<div class="t" style="left:521.39px;top:1286.42px;font-size:31.9px;letter-spacing:-0.200px;transform-origin:0 26.00px;transform:scale(1.045,1.04);-webkit-text-stroke:0.2px #000;">1 1/2”</div>
<div class="t" style="left:741.75px;top:1286.42px;font-size:31.9px;transform-origin:0 26.00px;transform:scale(1.045,1.04);-webkit-text-stroke:0.2px #000;">-</div>
<div class="t" style="left:932.95px;top:1286.42px;font-size:31.9px;transform-origin:0 26.00px;transform:scale(1.045,1.04);-webkit-text-stroke:0.2px #000;">-</div>
<div class="t" style="left:1076.30px;top:1286.42px;font-size:31.9px;transform-origin:0 26.00px;transform:scale(1.045,1.04);-webkit-text-stroke:0.2px #000;">-</div>
<div class="t" style="left:1224.60px;top:1286.42px;font-size:31.9px;transform-origin:0 26.00px;transform:scale(1.045,1.04);-webkit-text-stroke:0.2px #000;">-</div>
<div class="t" style="left:1398.40px;top:1286.42px;font-size:31.9px;transform-origin:0 26.00px;transform:scale(1.045,1.04);-webkit-text-stroke:0.2px #000;">-</div>
<div class="t" style="left:1507.64px;top:1284.42px;font-size:31.9px;letter-spacing:-1.185px;transform-origin:0 28.00px;transform:scale(0.93,1.04);-webkit-text-stroke:0.2px #000;"><span style="font-size:1.05em;">DFWRC</span>1500</div>
<div class="t" style="left:1757.46px;top:1286.42px;font-size:31.9px;transform-origin:0 26.00px;transform:scale(1.045,1.04);-webkit-text-stroke:0.2px #000;">590</div>
<div class="t" style="left:1926.54px;top:1286.42px;font-size:31.9px;transform-origin:0 26.00px;transform:scale(1.045,1.04);-webkit-text-stroke:0.2px #000;">8</div>
<div class="t" style="left:2058.56px;top:1286.42px;font-size:31.9px;transform-origin:0 26.00px;transform:scale(1.045,1.04);-webkit-text-stroke:0.2px #000;">360</div>
<div class="t" style="left:2234.72px;top:1286.42px;font-size:31.9px;transform-origin:0 26.00px;transform:scale(1.045,1.04);-webkit-text-stroke:0.2px #000;">54”</div>
<div class="t" style="left:521.39px;top:1341.60px;font-size:31.9px;letter-spacing:-0.200px;transform-origin:0 26.00px;transform:scale(1.045,1.04);-webkit-text-stroke:0.2px #000;">1 3/4”</div>
<div class="t" style="left:741.75px;top:1341.60px;font-size:31.9px;transform-origin:0 26.00px;transform:scale(1.045,1.04);-webkit-text-stroke:0.2px #000;">-</div>
<div class="t" style="left:932.95px;top:1341.60px;font-size:31.9px;transform-origin:0 26.00px;transform:scale(1.045,1.04);-webkit-text-stroke:0.2px #000;">-</div>
<div class="t" style="left:1076.30px;top:1341.60px;font-size:31.9px;transform-origin:0 26.00px;transform:scale(1.045,1.04);-webkit-text-stroke:0.2px #000;">-</div>
<div class="t" style="left:1224.60px;top:1341.60px;font-size:31.9px;transform-origin:0 26.00px;transform:scale(1.045,1.04);-webkit-text-stroke:0.2px #000;">-</div>
<div class="t" style="left:1398.40px;top:1341.60px;font-size:31.9px;transform-origin:0 26.00px;transform:scale(1.045,1.04);-webkit-text-stroke:0.2px #000;">-</div>
<div class="t" style="left:1507.64px;top:1339.60px;font-size:31.9px;letter-spacing:-1.185px;transform-origin:0 28.00px;transform:scale(0.93,1.04);-webkit-text-stroke:0.2px #000;"><span style="font-size:1.05em;">DFWRC</span>1750</div>
<div class="t" style="left:1757.46px;top:1341.60px;font-size:31.9px;transform-origin:0 26.00px;transform:scale(1.045,1.04);-webkit-text-stroke:0.2px #000;">980</div>
<div class="t" style="left:1926.54px;top:1341.60px;font-size:31.9px;transform-origin:0 26.00px;transform:scale(1.045,1.04);-webkit-text-stroke:0.2px #000;">8</div>
<div class="t" style="left:2058.56px;top:1341.60px;font-size:31.9px;transform-origin:0 26.00px;transform:scale(1.045,1.04);-webkit-text-stroke:0.2px #000;">590</div>
<div class="t" style="left:2234.72px;top:1341.60px;font-size:31.9px;transform-origin:0 26.00px;transform:scale(1.045,1.04);-webkit-text-stroke:0.2px #000;">58”</div>
<div class="t b i" style="left:489.80px;top:1397.90px;font-size:33.6px;letter-spacing:0.385px;transform-origin:0 28.00px;transform:scale(1.0,1.04);">*Torque values shown are based on clean, unlubricated threads. Wire rope clips are not designed for load</div>
<div class="t b i" style="left:489.00px;top:1440.30px;font-size:33.6px;letter-spacing:0.458px;transform-origin:0 28.00px;transform:scale(1.0,1.04);">carrying purposes, therefore working load limits have not been established.</div>
<div class="t b" style="left:127.63px;top:552.00px;font-size:39px;letter-spacing:-0.086px;transform-origin:0 33.00px;transform:scale(0.96,1.04);">MALLEABLE</div>
<div class="t b" style="left:102.43px;top:1046.00px;font-size:39px;letter-spacing:-0.111px;transform-origin:0 33.00px;transform:scale(0.96,1.04);">DROP-FORGED</div>
<div class="t b" style="left:35.65px;top:1159.40px;font-size:25.6px;letter-spacing:0.123px;transform-origin:0 21.00px;transform:scale(1.15,1.04);-webkit-text-stroke:1.3px #000;">METHODS OF APPLICATION:</div>
<div class="t" style="left:35.80px;top:1187.70px;font-size:26.5px;letter-spacing:0.236px;transform-origin:0 22.00px;transform:scale(1.0,1.04);-webkit-text-stroke:0.15px #000;"><b style="letter-spacing:-1.064px;">1. </b>Turn back the specified amount</div>
<div class="t" style="left:35.80px;top:1219.90px;font-size:26.5px;letter-spacing:0.176px;transform-origin:0 22.00px;transform:scale(1.0,1.04);-webkit-text-stroke:0.15px #000;">of rope from the thimble. Apply the</div>
<div class="t" style="left:36.80px;top:1252.50px;font-size:26.5px;letter-spacing:0.277px;transform-origin:0 22.00px;transform:scale(1.0,1.04);-webkit-text-stroke:0.15px #000;">first clip one base width from the</div>
<div class="t" style="left:35.80px;top:1285.20px;font-size:26.5px;letter-spacing:0.362px;transform-origin:0 22.00px;transform:scale(1.0,1.04);-webkit-text-stroke:0.15px #000;">dead end of the wire rope.</div>
<div class="t" style="left:36.80px;top:1398.90px;font-size:26.5px;letter-spacing:0.326px;transform-origin:0 22.00px;transform:scale(1.0,1.04);-webkit-text-stroke:0.15px #000;"><b style="letter-spacing:-0.674px;">2. </b>Apply the next clip as near the</div>
<div class="t" style="left:35.80px;top:1431.00px;font-size:26.5px;letter-spacing:0.160px;transform-origin:0 22.00px;transform:scale(1.0,1.04);-webkit-text-stroke:0.15px #000;">loop as possible. Turn on the nuts</div>
<div class="t" style="left:35.80px;top:1463.00px;font-size:26.5px;letter-spacing:0.322px;transform-origin:0 22.00px;transform:scale(1.0,1.04);-webkit-text-stroke:0.15px #000;">but do not tighten.</div>
</main>
</body>
</html>
